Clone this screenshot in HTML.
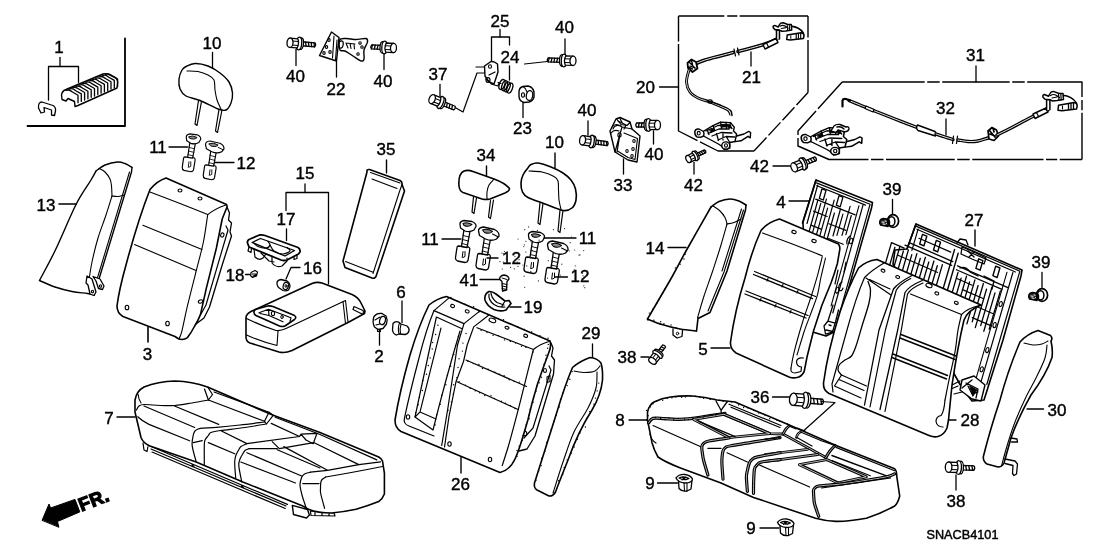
<!DOCTYPE html>
<html lang="en"><head><meta charset="utf-8"><title>Rear Seat - SNACB4101</title>
<style>
html,body{margin:0;padding:0;background:#fff;}
body{width:1108px;height:553px;overflow:hidden;}
svg{display:block;opacity:0.999;will-change:transform;font-family:"Liberation Sans",Arial,sans-serif;}
svg text{fill:#000;}
svg path, svg ellipse{stroke-linejoin:round;stroke-linecap:round;}
</style></head><body>
<svg width="1108" height="553" viewBox="0 0 1108 553">
<rect width="1108" height="553" fill="#fff"/>
<path d="M125 38.5L125 126L27.5 126" fill="none" stroke="#000" stroke-width="1.8"/>
<text x="59" y="52.8" font-size="17" text-anchor="middle" stroke="#000" stroke-width="0.4">1</text>
<path d="M60 57.5L60 66.5" fill="none" stroke="#000" stroke-width="1.3"/>
<path d="M48.5 100L48.5 66.5L78.5 66.5L78.5 82.5" fill="none" stroke="#000" stroke-width="1.3"/>
<path d="M41 113 L38.5 108 Q38 102 42 102 L53 105.5 Q56 107 55.5 111 L54.5 115.5 L51.5 115 L51.5 110 L44 107.5 L44.5 112 Z" fill="#fff" stroke="#000" stroke-width="1.3"/>
<path d="M61.5 95 Q62 91 66 89.5 L103 74 Q106 73 109 74.5 L116 78 Q118 80 117.5 84 L117 88 L78 105.5 L75 106.5 L74.5 101.5 L68 98.5 L66 101 L62 99.5 Z" fill="#fff" stroke="#000" stroke-width="1.4"/>
<path d="M66 90.5 q3 -1.5 6.5 1.5 l5.5 3.2 l0 7.5" fill="none" stroke="#000" stroke-width="1.3"/>
<path d="M69.3 89.2 q3 -1.5 6.5 1.5 l5.5 3.2 l0 7.5" fill="none" stroke="#000" stroke-width="1.3"/>
<path d="M72.6 87.8 q3 -1.5 6.5 1.5 l5.5 3.2 l0 7.5" fill="none" stroke="#000" stroke-width="1.3"/>
<path d="M75.9 86.5 q3 -1.5 6.5 1.5 l5.5 3.2 l0 7.5" fill="none" stroke="#000" stroke-width="1.3"/>
<path d="M79.2 85.1 q3 -1.5 6.5 1.5 l5.5 3.2 l0 7.5" fill="none" stroke="#000" stroke-width="1.3"/>
<path d="M82.5 83.8 q3 -1.5 6.5 1.5 l5.5 3.2 l0 7.5" fill="none" stroke="#000" stroke-width="1.3"/>
<path d="M85.8 82.4 q3 -1.5 6.5 1.5 l5.5 3.2 l0 7.5" fill="none" stroke="#000" stroke-width="1.3"/>
<path d="M89.1 81 q3 -1.5 6.5 1.5 l5.5 3.2 l0 7.5" fill="none" stroke="#000" stroke-width="1.3"/>
<path d="M92.4 79.7 q3 -1.5 6.5 1.5 l5.5 3.2 l0 7.5" fill="none" stroke="#000" stroke-width="1.3"/>
<path d="M95.7 78.3 q3 -1.5 6.5 1.5 l5.5 3.2 l0 7.5" fill="none" stroke="#000" stroke-width="1.3"/>
<path d="M99 77 q3 -1.5 6.5 1.5 l5.5 3.2 l0 7.5" fill="none" stroke="#000" stroke-width="1.3"/>
<path d="M102.3 75.7 q3 -1.5 6.5 1.5 l5.5 3.2 l0 7.5" fill="none" stroke="#000" stroke-width="1.3"/>
<path d="M105.6 74.3 q3 -1.5 6.5 1.5 l5.5 3.2 l0 7.5" fill="none" stroke="#000" stroke-width="1.3"/>
<text x="212" y="49.1" font-size="17" text-anchor="middle" stroke="#000" stroke-width="0.4">10</text>
<path d="M212.5 52.5L212.5 68" fill="none" stroke="#000" stroke-width="1.3"/>
<path d="M186 66.5C188.2 65.4 191.3 63.6 195 63.5C198.7 63.4 203.8 64.4 208 66C212.2 67.6 216.5 70.3 220 73C223.5 75.7 226.9 78.7 229 82C231.1 85.3 232.2 89.5 232.5 93C232.8 96.5 232.1 100.2 231 103C229.9 105.8 228.2 109 226 110C223.8 111 222.3 110.6 218 109C213.7 107.4 205.3 102.7 200 100.5C194.7 98.3 189.3 97.9 186 96C182.7 94.1 181.2 91.8 180 89C178.8 86.2 178.7 82.2 179 79C179.3 75.8 180.8 72.1 182 70C183.2 67.9 183.8 67.6 186 66.5Z" fill="none" stroke="#000" stroke-width="1.4"/>
<path d="M187 71C188.8 71.1 194.5 70.8 198 71.5C201.5 72.2 205.3 73.6 208 75C210.7 76.4 212.8 77.5 214 80C215.2 82.5 214.5 86.7 215 90C215.5 93.3 216 96.8 217 100C218 103.2 220.3 107.5 221 109" fill="none" stroke="#000" stroke-width="1.1"/>
<path d="M198.5 100.5L195 124L197 125.5L201.5 101.5" fill="none" stroke="#000" stroke-width="1.2"/>
<path d="M219 109.5L215.5 131L217.5 132.5L222 110" fill="none" stroke="#000" stroke-width="1.2"/>
<g transform="translate(299 43.5) rotate(5) scale(1 1)" fill="#fff" stroke="#000" stroke-width="1.3"><path d="M3 -2 L16 -2 Q17.5 0 16 2 L3 2Z"/><path d="M6.5 -2 l0.800 4"/><path d="M9.3 -2 l0.800 4"/><path d="M12.1 -2 l0.800 4"/><path d="M14.9 -2 l0.800 4"/><ellipse cx="2" cy="0" rx="2.500" ry="5.800"/><ellipse cx="0" cy="0" rx="2.700" ry="6.300"/><path d="M-9 -4.600 L-1.500 -4.600 Q0.500 0 -1.500 4.600 L-9 4.600Z"/><path d="M-7 -1.800 L-1 -1.800 M-7 2 L-1 2" stroke-width="1"/><ellipse cx="-9" cy="0" rx="3" ry="4.700"/></g>
<text x="295.5" y="82.3" font-size="17" text-anchor="middle" stroke="#000" stroke-width="0.4">40</text>
<path d="M296 49.5L296 65.5" fill="none" stroke="#000" stroke-width="1.3"/>
<path d="M331.5 32L339 37.5L336.5 61L319.5 55.5Z" fill="#fff" stroke="#000" stroke-width="1.4"/>
<path d="M339.5 40C340.5 38.1 343.2 38.6 346 38.5C348.8 38.4 352.7 39.5 356 39.5C359.3 39.5 364.1 38.1 366 38.5C367.9 38.9 367.8 40.1 367.5 42C367.2 43.9 364.6 47.2 364 50C363.4 52.8 364.5 57.2 364 59C363.5 60.8 362.8 61.5 361 61C359.2 60.5 355.7 57.7 353 56C350.3 54.3 347.2 52 345 51C342.8 50 340.9 51.8 340 50C339.1 48.2 338.5 41.9 339.5 40Z" fill="#fff" stroke="#000" stroke-width="1.4"/>
<path d="M334 36L332.5 58" fill="none" stroke="#000" stroke-width="1.1"/>
<path d="M337 40L335.5 60" fill="none" stroke="#000" stroke-width="1.1"/>
<ellipse cx="341" cy="44.5" rx="2.2" ry="3.6" fill="none" stroke="#000" stroke-width="1.2" transform="rotate(10 341 44.5)"/>
<ellipse cx="329" cy="40" rx="1.2" ry="1.4" fill="none" stroke="#000" stroke-width="1.1"/>
<ellipse cx="326.5" cy="47" rx="1.2" ry="1.4" fill="none" stroke="#000" stroke-width="1.1"/>
<ellipse cx="324" cy="53" rx="1.2" ry="1.4" fill="none" stroke="#000" stroke-width="1.1"/>
<ellipse cx="330" cy="52" rx="1.2" ry="1.4" fill="none" stroke="#000" stroke-width="1.1"/>
<ellipse cx="360" cy="43" rx="1.2" ry="1.3" fill="none" stroke="#000" stroke-width="1.1"/>
<ellipse cx="358" cy="54" rx="1.2" ry="1.3" fill="none" stroke="#000" stroke-width="1.1"/>
<ellipse cx="362" cy="47" rx="1.2" ry="1.3" fill="none" stroke="#000" stroke-width="1.1"/>
<path d="M346 43 l2 5 M350 43.5 l1 5 M354 44 l0.5 5 M346 43 l9 1" fill="none" stroke="#000" stroke-width="1.1"/>
<text x="336" y="94.8" font-size="17" text-anchor="middle" stroke="#000" stroke-width="0.4">22</text>
<path d="M336.5 61L336.5 77" fill="none" stroke="#000" stroke-width="1.3"/>
<g transform="translate(384.5 47.5) rotate(3) scale(-1 1)" fill="#fff" stroke="#000" stroke-width="1.3"><path d="M3 -2 L13 -2 Q14.5 0 13 2 L3 2Z"/><path d="M6.5 -2 l0.800 4"/><path d="M9.3 -2 l0.800 4"/><path d="M12.1 -2 l0.800 4"/><ellipse cx="2" cy="0" rx="2.500" ry="5.800"/><ellipse cx="0" cy="0" rx="2.700" ry="6.300"/><path d="M-9 -4.600 L-1.500 -4.600 Q0.500 0 -1.500 4.600 L-9 4.600Z"/><path d="M-7 -1.800 L-1 -1.800 M-7 2 L-1 2" stroke-width="1"/><ellipse cx="-9" cy="0" rx="3" ry="4.700"/></g>
<text x="383" y="87.3" font-size="17" text-anchor="middle" stroke="#000" stroke-width="0.4">40</text>
<path d="M384 54L384 69.5" fill="none" stroke="#000" stroke-width="1.3"/>
<text x="500" y="26.8" font-size="17" text-anchor="middle" stroke="#000" stroke-width="0.4">25</text>
<path d="M500 29.5L500 37" fill="none" stroke="#000" stroke-width="1.3"/>
<path d="M491.5 62.5L491.5 37L509.5 37L509.5 45" fill="none" stroke="#000" stroke-width="1.3"/>
<text x="510" y="62.8" font-size="17" text-anchor="middle" stroke="#000" stroke-width="0.4">24</text>
<path d="M509.5 66L509.5 80" fill="none" stroke="#000" stroke-width="1.3"/>
<text x="522.5" y="134.3" font-size="17" text-anchor="middle" stroke="#000" stroke-width="0.4">23</text>
<path d="M523 102.5L523 117.5" fill="none" stroke="#000" stroke-width="1.3"/>
<text x="438" y="79.8" font-size="17" text-anchor="middle" stroke="#000" stroke-width="0.4">37</text>
<path d="M440 84.5L440 96" fill="none" stroke="#000" stroke-width="1.3"/>
<g transform="translate(440.5 102.5) rotate(22) scale(1 1)" fill="#fff" stroke="#000" stroke-width="1.3"><path d="M3 -2 L15 -2 Q16.5 0 15 2 L3 2Z"/><path d="M6.5 -2 l0.800 4"/><path d="M9.3 -2 l0.800 4"/><path d="M12.1 -2 l0.800 4"/><ellipse cx="2" cy="0" rx="2.500" ry="5.800"/><ellipse cx="0" cy="0" rx="2.700" ry="6.300"/><path d="M-9 -4.600 L-1.500 -4.600 Q0.500 0 -1.500 4.600 L-9 4.600Z"/><path d="M-7 -1.800 L-1 -1.800 M-7 2 L-1 2" stroke-width="1"/><ellipse cx="-9" cy="0" rx="3" ry="4.700"/></g>
<path d="M456 108L463 112L477 73L484.5 73" fill="none" stroke="#000" stroke-width="1.2"/>
<path d="M476 67L484.5 67" fill="none" stroke="#000" stroke-width="1.2"/>
<path d="M524.5 64L552 61" fill="none" stroke="#000" stroke-width="1.2"/>
<path d="M484.5 66 L491 61.5 Q494 61 497.5 64 L498 72 L494 84 L489 82 L485 76 Z" fill="#fff" stroke="#000" stroke-width="1.4"/>
<ellipse cx="490" cy="66.5" rx="1.5" ry="1.8" fill="none" stroke="#000" stroke-width="1.1"/>
<path d="M489 75 l6 -3 M486 79 l5 4 M491 84 l7 2 l1 -3" fill="none" stroke="#000" stroke-width="1.2"/>
<ellipse cx="488" cy="80" rx="2" ry="2.4" fill="none" stroke="#000" stroke-width="1.2"/>
<ellipse cx="502" cy="84.5" rx="2.6" ry="5.2" fill="none" stroke="#000" stroke-width="1.3" transform="rotate(20 502 84.5)"/>
<ellipse cx="504.6" cy="85.7" rx="2.6" ry="5.2" fill="none" stroke="#000" stroke-width="1.3" transform="rotate(20 504.6 85.7)"/>
<ellipse cx="507.2" cy="86.9" rx="2.6" ry="5.2" fill="none" stroke="#000" stroke-width="1.3" transform="rotate(20 507.2 86.9)"/>
<ellipse cx="509.8" cy="88.1" rx="2.6" ry="5.2" fill="none" stroke="#000" stroke-width="1.3" transform="rotate(20 509.8 88.1)"/>
<path d="M498 82.5L501 83.5" fill="none" stroke="#000" stroke-width="1.2"/>
<path d="M519 92 Q519 87.5 523 86.5 L528 86 Q533 87 534 92 L534 97 Q533 101 529 102 L524 102.5 Q519 101 519 96Z" fill="#fff" stroke="#000" stroke-width="1.4"/>
<ellipse cx="529.5" cy="95.5" rx="3.2" ry="5" fill="none" stroke="#000" stroke-width="1.3" transform="rotate(10 529.5 95.5)"/>
<ellipse cx="523" cy="95" rx="1.5" ry="2.2" fill="none" stroke="#000" stroke-width="1.1"/>
<path d="M523 86.5 Q526 88 527 92" fill="none" stroke="#000" stroke-width="1.1"/>
<g transform="translate(564 60.5) rotate(2) scale(-1 1)" fill="#fff" stroke="#000" stroke-width="1.3"><path d="M3 -2 L16 -2 Q17.5 0 16 2 L3 2Z"/><path d="M6.5 -2 l0.800 4"/><path d="M9.3 -2 l0.800 4"/><path d="M12.1 -2 l0.800 4"/><path d="M14.9 -2 l0.800 4"/><ellipse cx="2" cy="0" rx="2.500" ry="5.800"/><ellipse cx="0" cy="0" rx="2.700" ry="6.300"/><path d="M-9 -4.600 L-1.500 -4.600 Q0.500 0 -1.500 4.600 L-9 4.600Z"/><path d="M-7 -1.800 L-1 -1.800 M-7 2 L-1 2" stroke-width="1"/><ellipse cx="-9" cy="0" rx="3" ry="4.700"/></g>
<text x="564.5" y="33.3" font-size="17" text-anchor="middle" stroke="#000" stroke-width="0.4">40</text>
<path d="M565 39L565 54" fill="none" stroke="#000" stroke-width="1.3"/>
<path d="M678.500 16 H724.300 M727.200 16 H737.400 M739.600 16 H808 M808 16 V37.500 M808 40 V92.500 M808 92.500 L796.500 105 M794.500 107.200 L782.500 120.200 M780.500 122.400 L768.500 135.400 M766.500 137.600 L754 151 M754 151 H718 L700 141.900 M697.500 140.600 L678.500 131 V44 M678.500 41.500 V16" fill="none" stroke="#000" stroke-width="1.4" style="stroke-linecap:butt"/>
<text x="645.5" y="93.3" font-size="17" text-anchor="middle" stroke="#000" stroke-width="0.4">20</text>
<path d="M659.5 87L678.5 87" fill="none" stroke="#000" stroke-width="1.3"/>
<text x="751.5" y="83.3" font-size="17" text-anchor="middle" stroke="#000" stroke-width="0.4">21</text>
<path d="M751 52L751 66" fill="none" stroke="#000" stroke-width="1.3"/>
<path d="M690 66C692.5 65 700 61.7 705 60C710 58.3 715.3 57.2 720 56C724.7 54.8 730.8 53.1 733 52.5" fill="none" stroke="#000" stroke-width="3.5"/>
<path d="M690 66C692.5 65 700 61.7 705 60C710 58.3 715.3 57.2 720 56C724.7 54.8 730.8 53.1 733 52.5" fill="none" stroke="#fff" stroke-width="0.9"/>
<path d="M738 51.5C740.8 50.8 750 48.4 755 47C760 45.6 764.3 44.3 768 43C771.7 41.7 775.5 39.7 777 39" fill="none" stroke="#000" stroke-width="3.5"/>
<path d="M738 51.5C740.8 50.8 750 48.4 755 47C760 45.6 764.3 44.3 768 43C771.7 41.7 775.5 39.7 777 39" fill="none" stroke="#fff" stroke-width="0.9"/>
<path d="M734 49 l1.5 7 M737.5 48 l1.5 7" fill="none" stroke="#000" stroke-width="1.2"/>
<path d="M763 44.500 L776 38.500 L778 42.500 L765 49 Z" fill="#fff" stroke="#000" stroke-width="1.4"/>
<path d="M766.500 43 l2 4" fill="none" stroke="#000" stroke-width="1.2"/>
<path d="M687.500 63 l4 -3.500 l4.500 2.500 l1.500 6.500 l-5 3.500 l-4.500 -4 Z" fill="#fff" stroke="#000" stroke-width="1.8"/>
<path d="M689 62 l6 6 M691.500 60.500 l1 4 M688.500 67 l4 2" fill="none" stroke="#000" stroke-width="1.4"/>
<path d="M690 66 l5 2" fill="none" stroke="#000" stroke-width="1.2"/>
<g transform="translate(776.5 39.8) scale(0.9) translate(-1046.600 -110.500)" fill="#fff" stroke="#000" stroke-width="1.7"><path d="M1046.600 110.500 L1046.600 99.500 L1049.900 99.500 L1049.900 109.500"/><path d="M1062.500 95.300 Q1072 96 1076.600 103.200" fill="none"/><path d="M1058.500 105.200 L1074 102.600 Q1077.200 103 1077.200 106 L1076.500 109 L1062 110.700 L1058 110.200 Z"/><path d="M1068.500 103.600 l0 6 M1071 103.200 l0 6 M1073.500 102.800 l0 6" stroke-width="1.300"/><path d="M1062.500 106 l0 3" stroke-width="1.100"/><path d="M1043 97.200 Q1042.300 95 1044.500 94.500 L1048.500 96.300 L1050 93.500 Q1051 91.500 1054 91.600 L1058.500 93.200 L1063 93.600 L1063.500 99.600 L1057 100.600 L1052.500 101 L1050 99.700 L1045 99.200 Z"/><path d="M1050.500 95.500 q3 -2 6 0 l3 2 M1052 98 l5 -1 M1058.500 93.500 l0.500 6.500 M1060.800 93.600 l0.400 6.300" stroke-width="1.200" fill="none"/></g>
<path d="M689 70C688.6 72 686.3 78.3 686.5 82C686.7 85.7 688.1 89.3 690 92C691.9 94.7 695.2 96.5 698 98C700.8 99.5 705.5 100.5 707 101" fill="none" stroke="#000" stroke-width="2.9"/>
<path d="M689 70C688.6 72 686.3 78.3 686.5 82C686.7 85.7 688.1 89.3 690 92C691.9 94.7 695.2 96.5 698 98C700.8 99.5 705.5 100.5 707 101" fill="none" stroke="#fff" stroke-width="0.8"/>
<path d="M707 101C707.8 101.2 709.8 101.3 712 102C714.2 102.7 717.5 104 720 105C722.5 106 725.2 107 727 108C728.8 109 730.2 109.8 731 111C731.8 112.2 731.8 114.8 732 115.5" fill="none" stroke="#000" stroke-width="1.4"/>
<path d="M709 102.5C710 102.9 712.8 104.1 715 105C717.2 105.9 719.8 107 722 108C724.2 109 726.7 109.8 728 111C729.3 112.2 729.7 114.3 730 115" fill="none" stroke="#000" stroke-width="1.2"/>
<ellipse cx="710" cy="101.5" rx="2.2" ry="1.6" fill="none" stroke="#000" stroke-width="1.2"/>
<g transform="translate(688 112)" fill="#fff" stroke="#000" stroke-width="1.4"><path d="M47 24.500 L56 22 L60.700 19.400 L62.600 20.500 L62.300 25.800 L60 24.300 L53 28.800 L47 29.600 Z"/><path d="M15 19.500 L25 13.700 L32.600 10.200 L42.500 10.600 L46.300 15.200 L45.500 19 L48.600 22 L47 29.500 L41.800 30.500 L41.800 36 L36.500 37.500 L33.400 34 L30.400 32 L15.500 24 Z"/><path d="M6.800 19.500 Q7.500 16.500 11 17 L15.500 19.500 Q16.500 22 15.500 24 L13 25.200 L9 25 Q6.500 23 6.800 19.500Z"/><ellipse cx="10.700" cy="21.200" rx="1.500" ry="1.800" stroke-width="1.100"/><ellipse cx="37.800" cy="33.600" rx="4" ry="3.700"/><ellipse cx="38" cy="33.500" rx="1.500" ry="1.700" stroke-width="1.100"/><path d="M18 19 L30 13.500 L40 13 L44 16.500 M20 21.500 L31 17 L41 17 M24 24 L33 20.500 L44 21 M30 28 L38 24.500 L46.500 25 M25 13.700 L26.500 18.500 M32.600 10.200 L33.500 16 M38 10.400 L38.500 16.500 M42.500 10.600 L41 17 M19 17.500 L21 22.500 M28.500 21.500 L30.500 28.500 M35 22 L35 28 M41.800 30.500 L38.500 25" stroke-width="1.300"/><path d="M33 12.500 l4.500 -0.200 l0.500 2.500 l-4.500 0.500Z M39.500 12.500 l3 0.500 l1 3 l-3.500 -0.500Z M22 18 l4 -2 l1 2.500 l-4 2Z" fill="#000" stroke-width="0.800"/></g>
<text x="975.5" y="61.3" font-size="17" text-anchor="middle" stroke="#000" stroke-width="0.4">31</text>
<path d="M976 66L976 82" fill="none" stroke="#000" stroke-width="1.3"/>
<path d="M842.200 82 H924.700 M927.200 82 H939.700 M942.200 82 H1009.700 M1012.200 82 H1024.700 M1027.200 82 H1082 V97 M1082 100 V110.300 M1082 112.800 V159.500 M1082 159.500 H1059.700 M1057.200 159.500 H1046 M1043.500 159.500 H972.200 M969.700 159.500 H957.200 M954.700 159.500 H886 M883.500 159.500 H871 M868.500 159.500 H829 L798 146 V138 M798 135 V131 L816 111 M818 108.800 L842.200 82" fill="none" stroke="#000" stroke-width="1.4" style="stroke-linecap:butt"/>
<text x="945.5" y="114.3" font-size="17" text-anchor="middle" stroke="#000" stroke-width="0.4">32</text>
<path d="M946 119L946 135" fill="none" stroke="#000" stroke-width="1.3"/>
<g transform="translate(793.800 117.500) scale(1.09 1)">
<g transform="translate(0 0)" fill="#fff" stroke="#000" stroke-width="1.4"><path d="M47 24.500 L56 22 L60.700 19.400 L62.600 20.500 L62.300 25.800 L60 24.300 L53 28.800 L47 29.600 Z"/><path d="M15 19.500 L25 13.700 L32.600 10.200 L42.500 10.600 L46.300 15.200 L45.500 19 L48.600 22 L47 29.500 L41.800 30.500 L41.800 36 L36.500 37.500 L33.400 34 L30.400 32 L15.500 24 Z"/><path d="M6.800 19.500 Q7.500 16.500 11 17 L15.500 19.500 Q16.500 22 15.500 24 L13 25.200 L9 25 Q6.500 23 6.800 19.500Z"/><ellipse cx="10.700" cy="21.200" rx="1.500" ry="1.800" stroke-width="1.100"/><ellipse cx="37.800" cy="33.600" rx="4" ry="3.700"/><ellipse cx="38" cy="33.500" rx="1.500" ry="1.700" stroke-width="1.100"/><path d="M18 19 L30 13.500 L40 13 L44 16.500 M20 21.500 L31 17 L41 17 M24 24 L33 20.500 L44 21 M30 28 L38 24.500 L46.500 25 M25 13.700 L26.500 18.500 M32.600 10.200 L33.500 16 M38 10.400 L38.500 16.500 M42.500 10.600 L41 17 M19 17.500 L21 22.500 M28.500 21.500 L30.500 28.500 M35 22 L35 28 M41.800 30.500 L38.500 25" stroke-width="1.300"/><path d="M33 12.500 l4.500 -0.200 l0.500 2.500 l-4.500 0.500Z M39.500 12.500 l3 0.500 l1 3 l-3.500 -0.500Z M22 18 l4 -2 l1 2.500 l-4 2Z" fill="#000" stroke-width="0.800"/></g>
</g>
<path d="M831 131 L834 126 Q836 124 840 124.500 L846 127 Q849 126 849 129 Q848 132 844 131.700 L838 130 L836 132.500 Z M837 127 q4 -1 7 2" fill="#fff" stroke="#000" stroke-width="1.4"/>
<path d="M849 100.5C850.8 101.2 856.3 103.5 860 105C863.7 106.5 865.2 107.2 871 109.5C876.8 111.8 887.3 116 895 119C902.7 122 913.3 126.1 917 127.5" fill="none" stroke="#000" stroke-width="3.4"/>
<path d="M849 100.5C850.8 101.2 856.3 103.5 860 105C863.7 106.5 865.2 107.2 871 109.5C876.8 111.8 887.3 116 895 119C902.7 122 913.3 126.1 917 127.5" fill="none" stroke="#fff" stroke-width="0.9"/>
<path d="M842.500 106.500 L842.500 100.500 Q843 98.500 846 99 L850 100.500" fill="none" stroke="#000" stroke-width="2.2"/>
<path d="M866 106 l8 3.500 l-1 2.500 l-8 -3.500 Z" fill="#fff" stroke="#000" stroke-width="1.2"/>
<path d="M917.500 125 L935 131.500 Q937 133.500 935.500 136 L918 130.500 Q915.500 128 917.500 125Z" fill="#fff" stroke="#000" stroke-width="1.4"/>
<path d="M936 134C937.5 134.5 942.2 136.1 945 137C947.8 137.9 951.7 139.1 953 139.5" fill="none" stroke="#000" stroke-width="3.4"/>
<path d="M936 134C937.5 134.5 942.2 136.1 945 137C947.8 137.9 951.7 139.1 953 139.5" fill="none" stroke="#fff" stroke-width="0.9"/>
<path d="M953.500 136 l-1 7.500 M957.500 136 l-1 7.500" fill="none" stroke="#000" stroke-width="1.2"/>
<path d="M958 140C959.7 140.2 964.7 141.3 968 141.5C971.3 141.7 974.7 141.6 978 141C981.3 140.4 986.3 138.5 988 138" fill="none" stroke="#000" stroke-width="3.4"/>
<path d="M958 140C959.7 140.2 964.7 141.3 968 141.5C971.3 141.7 974.7 141.6 978 141C981.3 140.4 986.3 138.5 988 138" fill="none" stroke="#fff" stroke-width="0.9"/>
<path d="M988 131 l4 -3.500 l4.500 2.500 l2 6 l-4.500 4.500 l-5 -1.500 Z M990 134 l5 2 M993 128 l1 4 M989 130 l6 7" fill="#fff" stroke="#000" stroke-width="1.7"/>
<path d="M997 135C999.2 133.9 1005.5 130.8 1010 128.5C1014.5 126.2 1019.7 123.2 1024 121C1028.3 118.8 1032 116.8 1036 115C1040 113.2 1046 110.8 1048 110" fill="none" stroke="#000" stroke-width="3.4"/>
<path d="M997 135C999.2 133.9 1005.5 130.8 1010 128.5C1014.5 126.2 1019.7 123.2 1024 121C1028.3 118.8 1032 116.8 1036 115C1040 113.2 1046 110.8 1048 110" fill="none" stroke="#fff" stroke-width="0.9"/>
<path d="M1033 114 L1046 108 L1048 112 L1035 118.500 Z" fill="#fff" stroke="#000" stroke-width="1.4"/>
<path d="M1036.500 112.500 l2 4" fill="none" stroke="#000" stroke-width="1.2"/>
<g transform="translate(1046.6 110.5) scale(1) translate(-1046.600 -110.500)" fill="#fff" stroke="#000" stroke-width="1.5"><path d="M1046.600 110.500 L1046.600 99.500 L1049.900 99.500 L1049.900 109.500"/><path d="M1062.500 95.300 Q1072 96 1076.600 103.200" fill="none"/><path d="M1058.500 105.200 L1074 102.600 Q1077.200 103 1077.200 106 L1076.500 109 L1062 110.700 L1058 110.200 Z"/><path d="M1068.500 103.600 l0 6 M1071 103.200 l0 6 M1073.500 102.800 l0 6" stroke-width="1.300"/><path d="M1062.500 106 l0 3" stroke-width="1.100"/><path d="M1043 97.200 Q1042.300 95 1044.500 94.500 L1048.500 96.300 L1050 93.500 Q1051 91.500 1054 91.600 L1058.500 93.200 L1063 93.600 L1063.500 99.600 L1057 100.600 L1052.500 101 L1050 99.700 L1045 99.200 Z"/><path d="M1050.500 95.500 q3 -2 6 0 l3 2 M1052 98 l5 -1 M1058.500 93.500 l0.500 6.500 M1060.800 93.600 l0.400 6.300" stroke-width="1.200" fill="none"/></g>
<text x="587" y="115.8" font-size="17" text-anchor="middle" stroke="#000" stroke-width="0.4">40</text>
<path d="M588 121L588 135" fill="none" stroke="#000" stroke-width="1.3"/>
<g transform="translate(591.5 141.5) rotate(8) scale(1 1)" fill="#fff" stroke="#000" stroke-width="1.3"><path d="M3 -2 L16 -2 Q17.5 0 16 2 L3 2Z"/><path d="M6.5 -2 l0.800 4"/><path d="M9.3 -2 l0.800 4"/><path d="M12.1 -2 l0.800 4"/><path d="M14.9 -2 l0.800 4"/><ellipse cx="2" cy="0" rx="2.500" ry="5.800"/><ellipse cx="0" cy="0" rx="2.700" ry="6.300"/><path d="M-9 -4.600 L-1.500 -4.600 Q0.500 0 -1.500 4.600 L-9 4.600Z"/><path d="M-7 -1.800 L-1 -1.800 M-7 2 L-1 2" stroke-width="1"/><ellipse cx="-9" cy="0" rx="3" ry="4.700"/></g>
<text x="654" y="160.3" font-size="17" text-anchor="middle" stroke="#000" stroke-width="0.4">40</text>
<path d="M653.5 131L653.5 144" fill="none" stroke="#000" stroke-width="1.3"/>
<g transform="translate(648.5 125) rotate(0) scale(-1 1)" fill="#fff" stroke="#000" stroke-width="1.3"><path d="M3 -2 L12 -2 Q13.5 0 12 2 L3 2Z"/><path d="M6.5 -2 l0.800 4"/><path d="M9.3 -2 l0.800 4"/><ellipse cx="2" cy="0" rx="2.500" ry="5.800"/><ellipse cx="0" cy="0" rx="2.700" ry="6.300"/><path d="M-9 -4.600 L-1.500 -4.600 Q0.500 0 -1.500 4.600 L-9 4.600Z"/><path d="M-7 -1.800 L-1 -1.800 M-7 2 L-1 2" stroke-width="1"/><ellipse cx="-9" cy="0" rx="3" ry="4.700"/></g>
<text x="623" y="190.8" font-size="17" text-anchor="middle" stroke="#000" stroke-width="0.4">33</text>
<path d="M623.5 159L623.5 174" fill="none" stroke="#000" stroke-width="1.3"/>
<path d="M616 119 L620 117.500 L630 122 L632 129 L640 136 L637 162 L628 160 L615 152 L610 131 Z" fill="#fff" stroke="#000" stroke-width="1.4"/>
<path d="M612 127 Q616 122 622 127 L620 134 L617 152 M622 127 L632 129 M618 121 l8 4 l-2 4 M620 134 l-5 18" fill="none" stroke="#000" stroke-width="1.2"/>
<path d="M624 133 L637.500 138.500 L635 159.500 L628 157.500 L617.500 151" fill="none" stroke="#000" stroke-width="1.1"/>
<path d="M617 119.500 l4 5 l6 1 l3 -3 M620 118.500 l2 4 M613 129 q2 -5 8 -3 M611 133 q3 -4 8 -2" fill="none" stroke="#000" stroke-width="1.2"/>
<ellipse cx="619.5" cy="135" rx="1.6" ry="2.2" fill="none" stroke="#000" stroke-width="1.1"/>
<ellipse cx="634" cy="141" rx="1.2" ry="1.5" fill="none" stroke="#000" stroke-width="1.1"/>
<ellipse cx="633" cy="149" rx="1.2" ry="1.5" fill="none" stroke="#000" stroke-width="1.1"/>
<ellipse cx="627" cy="151" rx="1.2" ry="1.5" fill="none" stroke="#000" stroke-width="1.1"/>
<ellipse cx="632" cy="156" rx="1.2" ry="1.5" fill="none" stroke="#000" stroke-width="1.1"/>
<text x="693.5" y="190.8" font-size="17" text-anchor="middle" stroke="#000" stroke-width="0.4">42</text>
<path d="M694 162.5L694 174" fill="none" stroke="#000" stroke-width="1.3"/>
<g transform="translate(695 156) rotate(-25) scale(0.8 0.8)" fill="#fff" stroke="#000" stroke-width="1.6"><path d="M3 -2 L14 -2 Q15.5 0 14 2 L3 2Z"/><path d="M6.5 -2 l0.800 4"/><path d="M9.3 -2 l0.800 4"/><path d="M12.1 -2 l0.800 4"/><ellipse cx="2" cy="0" rx="2.500" ry="5.800"/><ellipse cx="0" cy="0" rx="2.700" ry="6.300"/><path d="M-9 -4.600 L-1.500 -4.600 Q0.500 0 -1.500 4.600 L-9 4.600Z"/><path d="M-7 -1.800 L-1 -1.800 M-7 2 L-1 2" stroke-width="1.2"/><ellipse cx="-9" cy="0" rx="3" ry="4.700"/></g>
<text x="759.5" y="172.3" font-size="17" text-anchor="middle" stroke="#000" stroke-width="0.4">42</text>
<path d="M773 166L791.5 166" fill="none" stroke="#000" stroke-width="1.3"/>
<g transform="translate(802.5 164) rotate(-22) scale(1 1)" fill="#fff" stroke="#000" stroke-width="1.3"><path d="M3 -2 L14 -2 Q15.5 0 14 2 L3 2Z"/><path d="M6.5 -2 l0.800 4"/><path d="M9.3 -2 l0.800 4"/><path d="M12.1 -2 l0.800 4"/><ellipse cx="2" cy="0" rx="2.500" ry="5.800"/><ellipse cx="0" cy="0" rx="2.700" ry="6.300"/><path d="M-9 -4.600 L-1.500 -4.600 Q0.500 0 -1.500 4.600 L-9 4.600Z"/><path d="M-7 -1.800 L-1 -1.800 M-7 2 L-1 2" stroke-width="1"/><ellipse cx="-9" cy="0" rx="3" ry="4.700"/></g>
<g transform="translate(193.5 137.5) scale(0.9)" fill="#fff" stroke="#000" stroke-width="1.3"><path d="M-9.500 21.500 L0.500 22.500 Q2 23 1.800 25 L0 36 Q-0.500 38 -3 38 L-10.500 36.500 Q-12.800 35.500 -12.500 33 L-11 23 Q-10.800 21.500 -9.500 21.500Z"/><path d="M-5 27 l-0.800 6 M-3 27 l0 5 l-2 1" stroke-width="1"/><path d="M-4 5 L-6.500 22 L-1 23 L2 7 Z"/><path d="M-5 11 l6 1.500 M-5.600 15 l6 1.500 M-6.200 19 l6 1.500" stroke-width="0.9"/><path d="M-8 0 Q-8.500 -3 -4 -4 L4 -3 Q8.500 -1 8 2 L6 5.500 Q2 8 -3 6.500 L-7.500 3.500 Z"/><path d="M-5 -1 q4 -2 9 1 q-3 3 -8 1 Z" stroke-width="1.05" fill="#8a8a8a"/></g>
<g transform="translate(214.5 145.5) scale(0.9)" fill="#fff" stroke="#000" stroke-width="1.3"><path d="M-9.500 21.500 L0.500 22.500 Q2 23 1.800 25 L0 36 Q-0.500 38 -3 38 L-10.500 36.500 Q-12.800 35.500 -12.500 33 L-11 23 Q-10.800 21.500 -9.500 21.500Z"/><path d="M-5 27 l-0.800 6 M-3 27 l0 5 l-2 1" stroke-width="1"/><path d="M-4 5 L-6.500 22 L-1 23 L2 7 Z"/><path d="M-5 11 l6 1.500 M-5.600 15 l6 1.500 M-6.200 19 l6 1.500" stroke-width="0.9"/><path d="M-10 -1 Q-10 -4.500 -5 -5 L6 -2.500 Q11 0 10.500 4 L8 7 Q3 9.500 -3 7 L-9 3.500 Z"/><path d="M-6 -2 q5 -2 10 1.500 q-3 3 -8 1 Z M4 2 l5 2.500" stroke-width="1.05" fill="#8a8a8a"/></g>
<text x="158" y="152.8" font-size="17" text-anchor="middle" stroke="#000" stroke-width="0.4">11</text>
<path d="M169 147L187.5 147" fill="none" stroke="#000" stroke-width="1.3"/>
<text x="246" y="168.8" font-size="17" text-anchor="middle" stroke="#000" stroke-width="0.4">12</text>
<path d="M215 162.5L234 162.5" fill="none" stroke="#000" stroke-width="1.3"/>
<text x="46" y="210.8" font-size="17" text-anchor="middle" stroke="#000" stroke-width="0.4">13</text>
<path d="M59 204L76 204" fill="none" stroke="#000" stroke-width="1.6"/>
<path d="M39.5 280.5C42.1 275.4 49.3 262.7 55.4 250C61.5 237.3 70.1 216.2 76 204.5C81.9 192.8 87.7 185.6 91 180C94.3 174.4 95.2 172.5 96 171" fill="none" stroke="#000" stroke-width="1.4"/>
<path d="M96 171C97.5 170 101.4 166.5 105 165C108.6 163.5 114.2 162.2 117.5 162C120.8 161.8 122.6 162.6 125 163.5C127.4 164.4 130.8 166.8 132 167.5" fill="none" stroke="#000" stroke-width="1.4"/>
<path d="M132 167.500 L131.500 172 L99 279" fill="none" stroke="#000" stroke-width="1.4"/>
<path d="M129.500 172 L96.500 281" fill="none" stroke="#000" stroke-width="1.1"/>
<path d="M99 168.5C100 169.1 103.2 170.2 105 172C106.8 173.8 108.9 176.7 110 179C111.1 181.3 111.2 183.2 111.5 186C111.8 188.8 111.9 194.3 112 196" fill="none" stroke="#000" stroke-width="1.1"/>
<path d="M112 196C111 199.2 108.3 208 106 215C103.7 222 100.3 230.2 98 238C95.7 245.8 93.6 254.5 92 262C90.4 269.5 89.1 279.5 88.5 283" fill="none" stroke="#000" stroke-width="1.1"/>
<path d="M112 196C113 196.1 116 196.7 118 196.5C120 196.3 123 195.2 124 195" fill="none" stroke="#000" stroke-width="1.1"/>
<path d="M39.5 280.5C42.1 281.6 49.6 285.2 55 287C60.4 288.8 66.6 290.4 72 291.5C77.4 292.6 83.8 292.9 87.5 293.5C91.2 294.1 93.3 294.8 94.5 295" fill="none" stroke="#000" stroke-width="1.4"/>
<path d="M87 276 L92 279 L96 292 L94 295.500 L90 294 L88 285 L86 283 Z" fill="#fff" stroke="#000" stroke-width="1.3"/>
<path d="M93 276.500 L100 279 L104 286 L102.500 289.500 L98.500 288.500 L96 281 Z" fill="#fff" stroke="#000" stroke-width="1.3"/>
<ellipse cx="92.5" cy="291.5" rx="1.1" ry="1.3" fill="none" stroke="#000" stroke-width="1.1"/>
<ellipse cx="100.5" cy="286" rx="1.1" ry="1.3" fill="none" stroke="#000" stroke-width="1.1"/>
<text x="147.5" y="359.8" font-size="17" text-anchor="middle" stroke="#000" stroke-width="0.4">3</text>
<path d="M148 327L148 342" fill="none" stroke="#000" stroke-width="1.6"/>
<path d="M227 207 L229.500 213 L228.500 220 L231.500 223 L230 232 L231.500 236 L222.500 264 L209.500 307 L204 318 L196 324" fill="none" stroke="#000" stroke-width="1.3"/>
<path d="M226 226 L228 230 L206 305 L201 314" fill="none" stroke="#000" stroke-width="1.2"/>
<path d="M150 189.500 Q157 181 166 178 L226.500 204.500 Q227.500 205.500 226.600 208 L222.200 219 L216.400 248 L206.300 288.400 L200.500 314.400 Q198 321 194.700 326 Q191 333 187.500 337.600 Q183 341 178 338.500 L175 336.500 L123 316.500 Q117 313 117 306 Q119 290 126 265 Q138 220 150 189.500 Z" fill="#fff" stroke="#000" stroke-width="1.6"/>
<path d="M150 192C155 193.9 170.4 199.7 180 203.5C189.6 207.3 203.1 212.8 207.7 214.6" fill="none" stroke="#000" stroke-width="1.1"/>
<path d="M207.700 214.600 Q216 208 226 205" fill="none" stroke="#000" stroke-width="1.1"/>
<path d="M207.7 214.6C207 219.2 205.3 232.6 203.4 242C201.5 251.4 198.8 260.4 196.2 271C193.5 281.6 189.9 295.6 187.5 305.7C185.1 315.8 183.1 326.2 181.7 331.8C180.2 337.4 179.3 337.8 178.8 339" fill="none" stroke="#000" stroke-width="1.1"/>
<path d="M142.9 225.2L202 249.5" fill="none" stroke="#000" stroke-width="1.1"/>
<path d="M134.5 244.5L196 270.5" fill="none" stroke="#000" stroke-width="1.1"/>
<ellipse cx="180" cy="190.5" rx="2" ry="1.5" fill="none" stroke="#000" stroke-width="1.1"/>
<ellipse cx="200" cy="198.5" rx="2" ry="1.5" fill="none" stroke="#000" stroke-width="1.1"/>
<ellipse cx="222.3" cy="235" rx="1.6" ry="2.2" fill="#fff" stroke="#000" stroke-width="1.1" transform="rotate(20 222.3 235)"/>
<ellipse cx="200.5" cy="301.5" rx="2.2" ry="1.6" fill="#fff" stroke="#000" stroke-width="1.1" transform="rotate(-20 200.5 301.5)"/>
<ellipse cx="127" cy="307.5" rx="1.8" ry="2.3" fill="none" stroke="#000" stroke-width="1.1"/>
<ellipse cx="167.5" cy="323.5" rx="1.8" ry="2.3" fill="none" stroke="#000" stroke-width="1.1"/>
<text x="305" y="178.8" font-size="17" text-anchor="middle" stroke="#000" stroke-width="0.4">15</text>
<path d="M305 184L305 192.5" fill="none" stroke="#000" stroke-width="1.3"/>
<path d="M286 210.5L286 192.5L328.5 192.5L328.5 284" fill="none" stroke="#000" stroke-width="1.3"/>
<text x="286" y="225.3" font-size="17" text-anchor="middle" stroke="#000" stroke-width="0.4">17</text>
<path d="M286.5 229L286.5 240.5" fill="none" stroke="#000" stroke-width="1.3"/>
<text x="235" y="281.3" font-size="17" text-anchor="middle" stroke="#000" stroke-width="0.4">18</text>
<path d="M245.5 274.5L249.5 274.5" fill="none" stroke="#000" stroke-width="1.3"/>
<text x="312.5" y="274.3" font-size="17" text-anchor="middle" stroke="#000" stroke-width="0.4">16</text>
<path d="M300 267.5L291 267.5L286 279" fill="none" stroke="#000" stroke-width="1.3"/>
<path d="M247.500 243 Q247 240 250 239 L259.500 235 Q262 234.500 265 235.500 L298 247.500 Q300.500 249 300 252 L298.500 254 L287 260 Q284 261 281 260 L249 247 Z" fill="#fff" stroke="#000" stroke-width="1.8"/>
<path d="M252 242.500 L260.500 238.500 L294.500 250.500 L285 256 Z" fill="none" stroke="#000" stroke-width="1.3"/>
<path d="M254 243C254.7 243.6 256 245.7 258 246.5C260 247.3 264 248.2 266 248C268 247.8 269.7 246.1 270 245C270.3 243.9 268.3 242.1 268 241.5" fill="none" stroke="#000" stroke-width="1.2"/>
<path d="M270 245C270.7 246 271.8 249.5 274 251C276.2 252.5 280.3 254 283 254C285.7 254 289.3 252.1 290 251C290.7 249.9 287.5 248.1 287 247.5" fill="none" stroke="#000" stroke-width="1.2"/>
<path d="M249 247 l-1 4 l3 1.500 l0.500 -4 M254 249 l1 8 q4 4 8 1 l3 -4 M272 256 l0 7 q4 5 10 3 l5 -5 l0 -3 M261 253 l8 8 l5 1" fill="none" stroke="#000" stroke-width="1.2"/>
<path d="M297 254.500 l0 4 l-3 1 l0 -3" fill="none" stroke="#000" stroke-width="1.2"/>
<path d="M251 272.500 l4 -2 l2.500 1.500 l-1 4 l-4 1.500 l-2 -2 Z M252 274 l4 0 M253 276 l3 -1" fill="none" stroke="#000" stroke-width="1.1"/>
<path d="M277 282.500 Q277.500 280 281 279.500 L287 281 Q290 283 290 286.500 L288.500 290 Q286 291.500 283 290.500 L278.500 287.500 Q276.500 285 277 282.500Z" fill="#fff" stroke="#000" stroke-width="1.3"/>
<ellipse cx="285.8" cy="286" rx="2.6" ry="3.6" fill="none" stroke="#000" stroke-width="1.2" transform="rotate(15 285.8 286)"/>
<ellipse cx="286" cy="286" rx="1" ry="1.4" fill="none" stroke="#000" stroke-width="1"/>
<path d="M246 318 Q246 314 251 311.500 L312 283.500 Q317 281.500 322 283 L352 294.500 Q358 297 361 303 L365 311 L364.500 313.500 L348 322.500 L292 350.500 Q285 353.500 279 352 L250 343 Q246 341.500 246 337 Z" fill="#fff" stroke="#000" stroke-width="1.6"/>
<path d="M246.500 318.500 Q262 326 276 330.500 Q281 331 286 328.500 L345.500 300.500" fill="none" stroke="#000" stroke-width="1.2"/>
<path d="M246.500 335 Q262 342 277 345.500 L278 331" fill="none" stroke="#000" stroke-width="1.1"/>
<path d="M345.500 300.500 L348 322" fill="none" stroke="#000" stroke-width="1.1"/>
<path d="M343 301.500 L345.500 323.500" fill="none" stroke="#000" stroke-width="1.1"/>
<path d="M354 306.500 l9 4 l1 2.500 l-3 0.500 l-8 -4 Z" fill="#fff" stroke="#000" stroke-width="1.2"/>
<path d="M254 312.500 Q253.500 310.500 256 309.300 L267.500 306 Q270 305.500 273 306.500 L294.500 315.500 Q297 317.500 294.500 319.500 L285 326 Q282.500 327 279.500 326 L256 315.500 Q254 314.500 254 312.500Z" fill="none" stroke="#000" stroke-width="1.6"/>
<path d="M259 312.800 L268.500 309.300 L291 317.800 L290 321.300 M268.500 309.300 L269 315.500 L283 321.800 M269 315.500 l-9 -2" fill="none" stroke="#000" stroke-width="1.2"/>
<ellipse cx="273" cy="313.5" rx="1.6" ry="2.2" fill="none" stroke="#000" stroke-width="1.1"/>
<ellipse cx="282" cy="317" rx="1.2" ry="1.6" fill="none" stroke="#000" stroke-width="1"/>
<text x="386" y="155.3" font-size="17" text-anchor="middle" stroke="#000" stroke-width="0.4">35</text>
<path d="M386.5 160L386.5 173" fill="none" stroke="#000" stroke-width="1.4"/>
<path d="M367 172 Q366.500 169 369.500 169.500 L400 180.500 Q402.500 181.500 402 184.500 L404.500 191 L376.500 275 Q375.500 279 372 278 L345 267.500 L343 261 Z" fill="#fff" stroke="#000" stroke-width="1.6"/>
<path d="M370.500 172.500 L400 183 M372 179 L397 188.500 M399.500 191.500 L373 273.500 M345.500 261.500 L372.500 272 M402 184.500 L399.500 191.500" fill="none" stroke="#000" stroke-width="1.1"/>
<text x="401" y="297.8" font-size="17" text-anchor="middle" stroke="#000" stroke-width="0.4">6</text>
<path d="M402 301L402 322.5" fill="none" stroke="#000" stroke-width="1.3"/>
<path d="M393 323.500 Q395 321 398.500 322 L401 324 L407 326 Q409.500 328 409 331 Q408 334 405 334.500 L399 334 L396.500 335 Q393 334 392.500 330 Z" fill="#fff" stroke="#000" stroke-width="1.3"/>
<path d="M399.500 323 Q397.500 328 399 334 M401 324.500 Q399.500 329 400.500 333.500" fill="none" stroke="#000" stroke-width="1.1"/>
<text x="379" y="362.3" font-size="17" text-anchor="middle" stroke="#000" stroke-width="0.4">2</text>
<path d="M379.5 330L379.5 345" fill="none" stroke="#000" stroke-width="1.3"/>
<path d="M374 316.500 Q377 312.500 382 313.500 L386 316 Q388 320 386.500 324 L383 328.500 L378 329.500 L374.500 327 Q372 322 374 316.500Z" fill="#fff" stroke="#000" stroke-width="1.3"/>
<ellipse cx="382.5" cy="320.5" rx="2.8" ry="4.2" fill="none" stroke="#000" stroke-width="1.2" transform="rotate(15 382.5 320.5)"/>
<path d="M375 320 l5 -3 M376 325 l4 -1 M377.500 329 l0 2.500 l3 0 l0 -2" fill="none" stroke="#000" stroke-width="1.1"/>
<text x="486" y="161.3" font-size="17" text-anchor="middle" stroke="#000" stroke-width="0.4">34</text>
<path d="M486.5 166L486.5 177" fill="none" stroke="#000" stroke-width="1.4"/>
<path d="M459 186 Q458 174 464 171 Q468 169.500 473 171.500 L494 179 Q505 183 509.500 188.500 Q509.500 191 505 193 L490 199 Q486 200 482 199 L463 192.500 Q459.500 191 459 186Z" fill="#fff" stroke="#000" stroke-width="1.6"/>
<path d="M494 179C493.2 180 490.2 182.8 489 185C487.8 187.2 487.3 189.6 487 192C486.7 194.4 487 198.2 487 199.5" fill="none" stroke="#000" stroke-width="1.1"/>
<path d="M473.5 197L472 212L474 213.5L476.5 198" fill="none" stroke="#000" stroke-width="1.2"/>
<path d="M490.5 200.5L488.5 217L490.5 218.5L493.5 200" fill="none" stroke="#000" stroke-width="1.2"/>
<text x="554.5" y="147.8" font-size="17" text-anchor="middle" stroke="#000" stroke-width="0.4">10</text>
<path d="M555 153L555 168" fill="none" stroke="#000" stroke-width="1.4"/>
<path d="M527.5 168.5C528.8 166.8 529.2 165.4 531 164.5C532.8 163.6 534.7 162.6 538 163C541.3 163.4 546.8 165.3 551 167C555.2 168.7 559.7 170.8 563 173C566.3 175.2 568.9 177.3 571 180C573.1 182.7 574.7 185.7 575.5 189C576.3 192.3 576.6 196.8 576 200C575.4 203.2 574.2 206.2 572 208C569.8 209.8 567.5 211.2 563 210.5C558.5 209.8 550.8 206.2 545 204C539.2 201.8 531.8 199.5 528 197.5C524.2 195.5 523.7 194.4 522.5 192C521.3 189.6 520.9 185.8 521 183C521.1 180.2 521.9 177.4 523 175C524.1 172.6 526.2 170.2 527.5 168.5Z" fill="none" stroke="#000" stroke-width="1.6"/>
<path d="M529 171C531.2 171.2 537.8 171.1 542 172C546.2 172.9 551.3 175 554 176.5C556.7 178 557.2 178.8 558 181C558.8 183.2 558.3 186.8 558.5 190C558.7 193.2 558.6 196.8 559 200C559.4 203.2 560.7 207.9 561 209.5" fill="none" stroke="#000" stroke-width="1.1"/>
<path d="M540 202.5L538 223L540 224.5L543 203.5" fill="none" stroke="#000" stroke-width="1.2"/>
<path d="M560 210L558 231L560 232.5L563 210.5" fill="none" stroke="#000" stroke-width="1.2"/>
<g transform="translate(468 224.5) scale(1)" fill="#fff" stroke="#000" stroke-width="1.3"><path d="M-9.500 21.500 L0.500 22.500 Q2 23 1.800 25 L0 36 Q-0.500 38 -3 38 L-10.500 36.500 Q-12.800 35.500 -12.500 33 L-11 23 Q-10.800 21.500 -9.500 21.500Z"/><path d="M-5 27 l-0.800 6 M-3 27 l0 5 l-2 1" stroke-width="1"/><path d="M-4 5 L-6.500 22 L-1 23 L2 7 Z"/><path d="M-5 11 l6 1.500 M-5.600 15 l6 1.500 M-6.200 19 l6 1.500" stroke-width="0.9"/><path d="M-8 0 Q-8.500 -3 -4 -4 L4 -3 Q8.500 -1 8 2 L6 5.500 Q2 8 -3 6.500 L-7.500 3.500 Z"/><path d="M-5 -1 q4 -2 9 1 q-3 3 -8 1 Z" stroke-width="1.05" fill="#8a8a8a"/></g>
<g transform="translate(488.5 232) scale(1)" fill="#fff" stroke="#000" stroke-width="1.3"><path d="M-9.500 21.500 L0.500 22.500 Q2 23 1.800 25 L0 36 Q-0.500 38 -3 38 L-10.500 36.500 Q-12.800 35.500 -12.500 33 L-11 23 Q-10.800 21.500 -9.500 21.500Z"/><path d="M-5 27 l-0.800 6 M-3 27 l0 5 l-2 1" stroke-width="1"/><path d="M-4 5 L-6.500 22 L-1 23 L2 7 Z"/><path d="M-5 11 l6 1.500 M-5.600 15 l6 1.500 M-6.200 19 l6 1.500" stroke-width="0.9"/><path d="M-10 -1 Q-10 -4.500 -5 -5 L6 -2.500 Q11 0 10.500 4 L8 7 Q3 9.500 -3 7 L-9 3.500 Z"/><path d="M-6 -2 q5 -2 10 1.500 q-3 3 -8 1 Z M4 2 l5 2.500" stroke-width="1.05" fill="#8a8a8a"/></g>
<g transform="translate(536.5 235.5) scale(1)" fill="#fff" stroke="#000" stroke-width="1.3"><path d="M-9.500 21.500 L0.500 22.500 Q2 23 1.800 25 L0 36 Q-0.500 38 -3 38 L-10.500 36.500 Q-12.800 35.500 -12.500 33 L-11 23 Q-10.800 21.500 -9.500 21.500Z"/><path d="M-5 27 l-0.800 6 M-3 27 l0 5 l-2 1" stroke-width="1"/><path d="M-4 5 L-6.500 22 L-1 23 L2 7 Z"/><path d="M-5 11 l6 1.500 M-5.600 15 l6 1.500 M-6.200 19 l6 1.500" stroke-width="0.9"/><path d="M-8 0 Q-8.500 -3 -4 -4 L4 -3 Q8.500 -1 8 2 L6 5.500 Q2 8 -3 6.500 L-7.500 3.500 Z"/><path d="M-5 -1 q4 -2 9 1 q-3 3 -8 1 Z" stroke-width="1.05" fill="#8a8a8a"/></g>
<g transform="translate(557.5 246) scale(1)" fill="#fff" stroke="#000" stroke-width="1.3"><path d="M-9.500 21.500 L0.500 22.500 Q2 23 1.800 25 L0 36 Q-0.500 38 -3 38 L-10.500 36.500 Q-12.800 35.500 -12.500 33 L-11 23 Q-10.800 21.500 -9.500 21.500Z"/><path d="M-5 27 l-0.800 6 M-3 27 l0 5 l-2 1" stroke-width="1"/><path d="M-4 5 L-6.500 22 L-1 23 L2 7 Z"/><path d="M-5 11 l6 1.500 M-5.600 15 l6 1.500 M-6.200 19 l6 1.500" stroke-width="0.9"/><path d="M-10 -1 Q-10 -4.500 -5 -5 L6 -2.500 Q11 0 10.500 4 L8 7 Q3 9.500 -3 7 L-9 3.500 Z"/><path d="M-6 -2 q5 -2 10 1.500 q-3 3 -8 1 Z M4 2 l5 2.500" stroke-width="1.05" fill="#8a8a8a"/></g>
<text x="430" y="245.3" font-size="17" text-anchor="middle" stroke="#000" stroke-width="0.4">11</text>
<path d="M442 239L461 239" fill="none" stroke="#000" stroke-width="1.3"/>
<text x="511.5" y="264.3" font-size="17" text-anchor="middle" stroke="#000" stroke-width="0.4">12</text>
<path d="M487 258L498 258" fill="none" stroke="#000" stroke-width="1.3"/>
<text x="587.5" y="244.3" font-size="17" text-anchor="middle" stroke="#000" stroke-width="0.4">11</text>
<path d="M544 238L576 238" fill="none" stroke="#000" stroke-width="1.3"/>
<text x="580" y="282.3" font-size="17" text-anchor="middle" stroke="#000" stroke-width="0.4">12</text>
<path d="M555 277L567.5 277" fill="none" stroke="#000" stroke-width="1.3"/>
<text x="469" y="285.8" font-size="17" text-anchor="middle" stroke="#000" stroke-width="0.4">41</text>
<path d="M480 279.5L500 279.5" fill="none" stroke="#000" stroke-width="1.3"/>
<path d="M499.500 279 Q500 275.500 504 275 Q508.500 275.500 509 279 L507 281.500 L506.500 290 L502.500 291 L502 281.500 Z" fill="#fff" stroke="#000" stroke-width="1.3"/>
<path d="M502 283.500 l5 1 M502 286 l5 1 M502 288.500 l5 1 M502 278 l5 1.500" fill="none" stroke="#000" stroke-width="1"/>
<text x="533" y="313.3" font-size="17" text-anchor="middle" stroke="#000" stroke-width="0.4">19</text>
<path d="M510 307L521 307" fill="none" stroke="#000" stroke-width="1.3"/>
<path d="M485 300 Q484 294 489 291.500 Q492 291 496 294 L505 301 L509 300.500 L511 303.500 L506 310 Q500 312 494 309.500 Q487 306 485 300Z" fill="#fff" stroke="#000" stroke-width="1.6"/>
<path d="M489 294 Q488 300 494 304.500 Q499 308 505 307 M491 292.500 Q491 298 497 302.500 L504 305 M505 301 L502 306" fill="none" stroke="#000" stroke-width="1.2"/>
<text x="460.5" y="490.3" font-size="17" text-anchor="middle" stroke="#000" stroke-width="0.4">26</text>
<path d="M461 457.5L461 473" fill="none" stroke="#000" stroke-width="1.4"/>
<path d="M551 343 L553 348 L551.500 356 L554.500 360 L553.500 374 L535 436 L527 449 L519 451" fill="none" stroke="#000" stroke-width="1.3"/>
<path d="M549 366 L551 370 L533 428 L524 438" fill="none" stroke="#000" stroke-width="1.2"/>
<path d="M547 377 l3 -1.500 l0 6 l-3 1 Z" fill="none" stroke="#000" stroke-width="1.1"/>
<ellipse cx="545" cy="370.5" rx="1.5" ry="2" fill="none" stroke="#000" stroke-width="1.1"/>
<ellipse cx="525" cy="433.5" rx="1.8" ry="2.2" fill="none" stroke="#000" stroke-width="1.1"/>
<path d="M429 305 Q437 298.500 446.500 296.500 L550 341 Q551.500 346 549 352 Q543 368 537.500 384 Q532 402 528 419.500 Q523 437 519.800 446.600 Q517 455 515 459 Q510 470 500 472.500 L401 431.500 Q395 428 395 420 Q400 390 410 355 Q419 325 429 305Z" fill="#fff" stroke="#000" stroke-width="1.6"/>
<path d="M434 310.600 L464 323.600 M477 327.700 L533.400 349.500" fill="none" stroke="#000" stroke-width="1.2"/>
<path d="M533.4 349.5C532.5 353 530.5 360.8 528 370.7C525.5 380.6 521.7 396.4 518.5 408.6C515.3 420.8 511.7 434.5 509 444C506.3 453.5 503.3 462 502.2 465.6" fill="none" stroke="#000" stroke-width="1.2"/>
<path d="M533.400 349.500 Q540 344 549 341.500" fill="none" stroke="#000" stroke-width="1.1"/>
<path d="M479.400 311.400 L464 323.600 L457.500 345 L447.500 410.500 L441.700 445.500" fill="none" stroke="#000" stroke-width="1.2"/>
<path d="M488.300 315.500 L473.700 326.900 L467.200 345 L463.500 361.500 L456 381.700 L449 416.500 L444.500 447" fill="none" stroke="#000" stroke-width="1.2"/>
<path d="M448.500 298.400 L434 310.600 Q426 330 419 358 Q410 392 404.500 418 Q403 424 409 426 L434 436" fill="none" stroke="#000" stroke-width="1.2"/>
<path d="M436.400 317 L461.500 328.500 M436.400 317 Q427 360 415 417 L433 430 Q446 378 460 331" fill="none" stroke="#000" stroke-width="1.2"/>
<path d="M420 412 L436 419 M415 417 L420 412 L441 328" fill="none" stroke="#000" stroke-width="1.1"/>
<path d="M466 360L526.5 386.5" fill="none" stroke="#000" stroke-width="1.2"/>
<path d="M457 381.7L518 409.5" fill="none" stroke="#000" stroke-width="1.2"/>
<ellipse cx="452.6" cy="306" rx="2" ry="1.5" fill="none" stroke="#000" stroke-width="1.1" transform="rotate(20 452.6 306)"/>
<ellipse cx="467.2" cy="311.4" rx="2" ry="1.5" fill="none" stroke="#000" stroke-width="1.1" transform="rotate(20 467.2 311.4)"/>
<ellipse cx="492.4" cy="320.4" rx="3.5" ry="2" fill="none" stroke="#000" stroke-width="1.1" transform="rotate(20 492.4 320.4)"/>
<ellipse cx="507" cy="327.7" rx="2" ry="1.3" fill="none" stroke="#000" stroke-width="1.1" transform="rotate(20 507 327.7)"/>
<ellipse cx="525.7" cy="335.8" rx="2" ry="1.5" fill="none" stroke="#000" stroke-width="1.1" transform="rotate(20 525.7 335.8)"/>
<ellipse cx="408" cy="417" rx="1.7" ry="2.2" fill="none" stroke="#000" stroke-width="1.1"/>
<ellipse cx="449.5" cy="444" rx="1.7" ry="2.2" fill="none" stroke="#000" stroke-width="1.1"/>
<ellipse cx="490" cy="459.5" rx="1.7" ry="2.2" fill="none" stroke="#000" stroke-width="1.1"/>
<g fill="#000"><circle cx="467.9" cy="361.2" r="0.7"/><circle cx="473.3" cy="363.6" r="0.7"/><circle cx="478.9" cy="364.5" r="0.7"/><circle cx="482.5" cy="368.5" r="0.7"/><circle cx="488.1" cy="369.3" r="0.7"/><circle cx="494.9" cy="372.1" r="0.7"/><circle cx="499.6" cy="374.3" r="0.7"/><circle cx="504.1" cy="375.7" r="0.7"/><circle cx="509.2" cy="379.7" r="0.7"/><circle cx="514" cy="381.6" r="0.7"/><circle cx="519.3" cy="382.1" r="0.7"/><circle cx="524.6" cy="385.6" r="0.7"/></g>
<g fill="#000"><circle cx="459.1" cy="381.7" r="0.7"/><circle cx="465.5" cy="385.1" r="0.7"/><circle cx="470.2" cy="388.4" r="0.7"/><circle cx="475.3" cy="390.8" r="0.7"/><circle cx="479.6" cy="392.8" r="0.7"/><circle cx="484.8" cy="395.5" r="0.7"/><circle cx="491" cy="395.8" r="0.7"/><circle cx="494.3" cy="398.4" r="0.7"/><circle cx="501.3" cy="401.2" r="0.7"/><circle cx="505.6" cy="403.2" r="0.7"/><circle cx="510.4" cy="405.8" r="0.7"/><circle cx="515.1" cy="408.5" r="0.7"/></g>
<g fill="#000"><circle cx="481.1" cy="330.2" r="0.7"/><circle cx="487" cy="332.6" r="0.7"/><circle cx="493.1" cy="335.2" r="0.7"/><circle cx="498.4" cy="335.6" r="0.7"/><circle cx="504.5" cy="339.9" r="0.7"/><circle cx="510.3" cy="341.4" r="0.7"/><circle cx="515.6" cy="342.9" r="0.7"/><circle cx="521.5" cy="346.2" r="0.7"/><circle cx="525.9" cy="347.4" r="0.7"/><circle cx="533" cy="352" r="0.7"/></g>
<g fill="#000"><circle cx="548.3" cy="344.4" r="0.7"/><circle cx="547.7" cy="348.3" r="0.7"/><circle cx="546" cy="355.2" r="0.7"/><circle cx="546" cy="358.9" r="0.7"/><circle cx="544" cy="364.3" r="0.7"/><circle cx="542.7" cy="370.4" r="0.7"/><circle cx="541.5" cy="377.3" r="0.7"/><circle cx="539.1" cy="382.7" r="0.7"/><circle cx="537" cy="385.9" r="0.7"/><circle cx="536.2" cy="391.1" r="0.7"/><circle cx="533.6" cy="397.4" r="0.7"/><circle cx="533.1" cy="402.2" r="0.7"/><circle cx="530.1" cy="409.3" r="0.7"/><circle cx="529.2" cy="414.9" r="0.7"/><circle cx="529.1" cy="418.8" r="0.7"/><circle cx="526.3" cy="424.5" r="0.7"/><circle cx="525" cy="430" r="0.7"/><circle cx="523" cy="435.4" r="0.7"/><circle cx="522.2" cy="440.4" r="0.7"/><circle cx="519.2" cy="446.2" r="0.7"/><circle cx="517" cy="450.5" r="0.7"/><circle cx="517" cy="456.4" r="0.7"/></g>
<g fill="#000"><circle cx="437.9" cy="325.3" r="0.7"/><circle cx="435.6" cy="334.5" r="0.7"/><circle cx="432.7" cy="342.5" r="0.7"/><circle cx="432.2" cy="349" r="0.7"/><circle cx="430.2" cy="357.9" r="0.7"/><circle cx="428.3" cy="365.5" r="0.7"/><circle cx="426.4" cy="374.3" r="0.7"/><circle cx="422.8" cy="380.5" r="0.7"/><circle cx="422.4" cy="390.5" r="0.7"/><circle cx="419.4" cy="397.2" r="0.7"/><circle cx="418.2" cy="404.8" r="0.7"/><circle cx="415.7" cy="412.6" r="0.7"/></g>
<g fill="#000"><circle cx="458.3" cy="336.2" r="0.7"/><circle cx="455.5" cy="345.6" r="0.7"/><circle cx="453.9" cy="354.6" r="0.7"/><circle cx="450.7" cy="366.2" r="0.7"/><circle cx="447.4" cy="374.9" r="0.7"/><circle cx="445.9" cy="384.8" r="0.7"/><circle cx="441.7" cy="395.2" r="0.7"/><circle cx="440.2" cy="404.3" r="0.7"/><circle cx="436.6" cy="414.8" r="0.7"/><circle cx="435.2" cy="424.9" r="0.7"/></g>
<g fill="#000"><circle cx="466" cy="333.5" r="0.7"/><circle cx="462.9" cy="343.1" r="0.7"/><circle cx="462.4" cy="351.1" r="0.7"/><circle cx="459" cy="358.8" r="0.7"/><circle cx="458" cy="367.5" r="0.7"/><circle cx="456.8" cy="377.6" r="0.7"/><circle cx="453.5" cy="384.7" r="0.7"/><circle cx="453.2" cy="394.1" r="0.7"/><circle cx="451.4" cy="401.9" r="0.7"/><circle cx="448" cy="410.3" r="0.7"/></g>
<g fill="#000"><circle cx="450.9" cy="297.5" r="0.7"/><circle cx="457.3" cy="301.1" r="0.7"/><circle cx="465" cy="304.2" r="0.7"/><circle cx="473.6" cy="306.8" r="0.7"/><circle cx="478.9" cy="311.9" r="0.7"/><circle cx="488.5" cy="315.2" r="0.7"/><circle cx="494.9" cy="318.2" r="0.7"/><circle cx="503.5" cy="319.7" r="0.7"/><circle cx="510.5" cy="324.3" r="0.7"/><circle cx="517.8" cy="326.7" r="0.7"/><circle cx="524.4" cy="329.5" r="0.7"/><circle cx="531.7" cy="332" r="0.7"/><circle cx="540" cy="335.7" r="0.7"/><circle cx="548" cy="338.3" r="0.7"/></g>
<text x="591" y="339.3" font-size="17" text-anchor="middle" stroke="#000" stroke-width="0.4">29</text>
<path d="M592.5 344L592.5 357.5" fill="none" stroke="#000" stroke-width="1.3"/>
<path d="M572.500 367.500 Q580 361 590 357.500 Q597 358 601 363 Q603 370 602.500 380 Q601 395 592 410 Q578 432 568 460 Q560 480 555.500 492 Q553 496.500 549 496 L537 490 Q533.500 488 534.500 483 Q545 450 556 415 Q565 385 572.500 367.500Z" fill="#fff" stroke="#000" stroke-width="1.6"/>
<path d="M574 371C575.8 371.2 581.5 372.5 585 372.5C588.5 372.5 592.5 372.1 595 371C597.5 369.9 599.2 366.8 600 366" fill="none" stroke="#000" stroke-width="1.1"/>
<path d="M597 372C596.8 374.7 597.5 382 596 388C594.5 394 591.7 400.7 588 408C584.3 415.3 578.2 423 574 432C569.8 441 566.5 451.8 563 462C559.5 472.2 554.7 487.8 553 493" fill="none" stroke="#000" stroke-width="1.1"/>
<g fill="#000"><circle cx="572.2" cy="371.6" r="0.7"/><circle cx="569.8" cy="379.2" r="0.7"/><circle cx="567.2" cy="385.6" r="0.7"/><circle cx="562.6" cy="393.2" r="0.7"/><circle cx="560.5" cy="399.3" r="0.7"/><circle cx="559.2" cy="407" r="0.7"/><circle cx="556.1" cy="415.2" r="0.7"/><circle cx="554.2" cy="421" r="0.7"/><circle cx="551.1" cy="429.5" r="0.7"/><circle cx="549.3" cy="436.6" r="0.7"/><circle cx="546.7" cy="442.4" r="0.7"/><circle cx="544.9" cy="451.2" r="0.7"/><circle cx="541.7" cy="458.3" r="0.7"/><circle cx="541.2" cy="465.6" r="0.7"/><circle cx="538.7" cy="470.9" r="0.7"/><circle cx="536" cy="480.2" r="0.7"/></g>
<g fill="#000"><circle cx="598.8" cy="383.1" r="0.7"/><circle cx="597.2" cy="390.9" r="0.7"/><circle cx="595.4" cy="398.1" r="0.7"/><circle cx="594" cy="404.2" r="0.7"/><circle cx="589.7" cy="411.6" r="0.7"/><circle cx="586.6" cy="418.3" r="0.7"/><circle cx="585.4" cy="427" r="0.7"/><circle cx="580" cy="433" r="0.7"/><circle cx="577.3" cy="439.3" r="0.7"/><circle cx="574.1" cy="447" r="0.7"/><circle cx="571.4" cy="453.1" r="0.7"/><circle cx="567.2" cy="459.9" r="0.7"/><circle cx="564.2" cy="467.5" r="0.7"/><circle cx="562.9" cy="474.1" r="0.7"/><circle cx="558.6" cy="480.7" r="0.7"/><circle cx="556.6" cy="488.7" r="0.7"/></g>
<g fill="#222"><circle cx="548.3" cy="260.7" r="0.600"/><circle cx="579.9" cy="254.9" r="0.600"/><circle cx="552" cy="262.4" r="0.600"/><circle cx="530.4" cy="257.7" r="0.600"/><circle cx="560.2" cy="275.2" r="0.600"/><circle cx="524.3" cy="244.8" r="0.600"/><circle cx="524.1" cy="276.2" r="0.600"/><circle cx="564.5" cy="228.6" r="0.600"/><circle cx="583.8" cy="285.8" r="0.600"/><circle cx="561.8" cy="264.2" r="0.600"/><circle cx="528.6" cy="226.9" r="0.600"/><circle cx="553.4" cy="229.7" r="0.600"/><circle cx="530.7" cy="241" r="0.600"/><circle cx="520" cy="254.8" r="0.600"/><circle cx="547.5" cy="278.2" r="0.600"/><circle cx="552.8" cy="265.7" r="0.600"/><circle cx="551.5" cy="267.1" r="0.600"/><circle cx="548.6" cy="243.2" r="0.600"/><circle cx="584.8" cy="287.7" r="0.600"/><circle cx="574.3" cy="269.9" r="0.600"/><circle cx="539.1" cy="240.2" r="0.600"/><circle cx="537.4" cy="230.4" r="0.600"/><circle cx="569.3" cy="250.8" r="0.600"/><circle cx="574.7" cy="250" r="0.600"/><circle cx="582.2" cy="278.5" r="0.600"/><circle cx="518" cy="239" r="0.600"/><circle cx="579" cy="255.1" r="0.600"/><circle cx="583.7" cy="250.6" r="0.600"/><circle cx="522.9" cy="265" r="0.600"/><circle cx="570.2" cy="242.7" r="0.600"/><circle cx="523.8" cy="246.6" r="0.600"/><circle cx="582.6" cy="273" r="0.600"/><circle cx="525.9" cy="241.3" r="0.600"/><circle cx="524.8" cy="229.7" r="0.600"/><circle cx="571.4" cy="237" r="0.600"/><circle cx="555.5" cy="253.7" r="0.600"/><circle cx="530.8" cy="271.4" r="0.600"/><circle cx="526.8" cy="265.9" r="0.600"/><circle cx="525.8" cy="252.1" r="0.600"/><circle cx="532.3" cy="242.7" r="0.600"/><circle cx="583.1" cy="275.8" r="0.600"/><circle cx="538.4" cy="280.9" r="0.600"/><circle cx="532.1" cy="250.4" r="0.600"/><circle cx="575.2" cy="265.8" r="0.600"/><circle cx="524.7" cy="287.3" r="0.600"/><circle cx="532.3" cy="242" r="0.600"/><circle cx="515" cy="256.6" r="0.600"/><circle cx="504.5" cy="251.5" r="0.600"/><circle cx="500" cy="261.7" r="0.600"/><circle cx="503.3" cy="262" r="0.600"/><circle cx="506.2" cy="259.1" r="0.600"/><circle cx="519.1" cy="259.7" r="0.600"/><circle cx="510.6" cy="267.3" r="0.600"/><circle cx="502" cy="253.1" r="0.600"/><circle cx="518" cy="266.4" r="0.600"/><circle cx="503.5" cy="253.8" r="0.600"/><circle cx="514.3" cy="268.8" r="0.600"/><circle cx="502.3" cy="269" r="0.600"/><circle cx="517.4" cy="262.1" r="0.600"/><circle cx="507.3" cy="252.1" r="0.600"/></g>
<text x="655" y="254.3" font-size="17" text-anchor="middle" stroke="#000" stroke-width="0.4">14</text>
<path d="M668 247.5L686 247.5" fill="none" stroke="#000" stroke-width="1.4"/>
<path d="M647.5 319C651.7 311.8 666.1 287.3 672.5 276C678.9 264.7 679.6 262.5 686 251C692.4 239.5 706.8 214.3 711 207" fill="none" stroke="#000" stroke-width="1.6"/>
<path d="M711 207C712.3 206.1 715.8 202.8 719 201.5C722.2 200.2 726.7 199.1 730 199C733.3 198.9 736.3 200 739 201C741.7 202 744.8 204.3 746 205" fill="none" stroke="#000" stroke-width="1.6"/>
<path d="M746 205 L745.500 210 L727 271 L710 312.500 L698 318.500 L696.500 331" fill="none" stroke="#000" stroke-width="1.6"/>
<path d="M743.500 210 L724 272 L708 311" fill="none" stroke="#000" stroke-width="1.1"/>
<path d="M741.500 209 L722 271" fill="none" stroke="#000" stroke-width="1.1"/>
<path d="M713 206C714.2 206.8 718 209.1 720 211C722 212.9 723.8 215.3 725 217.5C726.2 219.7 726.7 222.9 727 224" fill="none" stroke="#000" stroke-width="1.1"/>
<path d="M727 224C726 227.5 723.3 237.3 721 245C718.7 252.7 715.8 261.5 713 270C710.2 278.5 706.6 288 704 296C701.4 304 698.6 314.3 697.5 318" fill="none" stroke="#000" stroke-width="1.1"/>
<path d="M727 224C728.2 223.8 731.7 223.3 734 222.5C736.3 221.7 739.8 219.6 741 219" fill="none" stroke="#000" stroke-width="1.1"/>
<path d="M647.5 319C649.9 319.9 656.6 322.8 662 324.5C667.4 326.2 674.2 327.9 680 329C685.8 330.1 693.8 330.7 696.5 331" fill="none" stroke="#000" stroke-width="1.6"/>
<path d="M673 329 l0 6 l4 3 l5 -1.500 l0.500 -6" fill="none" stroke="#000" stroke-width="1.3"/>
<ellipse cx="677.5" cy="333.5" rx="1.2" ry="1.3" fill="none" stroke="#000" stroke-width="1"/>
<g fill="#000"><circle cx="665" cy="289" r="0.7"/><circle cx="662.5" cy="293.5" r="0.7"/><circle cx="659.3" cy="299.1" r="0.7"/><circle cx="657.2" cy="302.8" r="0.7"/><circle cx="652.8" cy="309.3" r="0.7"/><circle cx="649.3" cy="313.1" r="0.7"/><circle cx="647.9" cy="320.1" r="0.7"/><circle cx="653.9" cy="320.2" r="0.7"/><circle cx="660.7" cy="321.8" r="0.7"/><circle cx="663.9" cy="323.8" r="0.7"/><circle cx="671" cy="325" r="0.7"/><circle cx="676.1" cy="327.7" r="0.7"/></g>
<g fill="#000"><circle cx="688.7" cy="246.6" r="0.7"/><circle cx="685.1" cy="254.3" r="0.7"/><circle cx="683.9" cy="259" r="0.7"/><circle cx="680.1" cy="264.2" r="0.7"/><circle cx="675.4" cy="267.9" r="0.7"/></g>
<text x="627" y="362.8" font-size="17" text-anchor="middle" stroke="#000" stroke-width="0.4">38</text>
<path d="M641 357L649 357" fill="none" stroke="#000" stroke-width="1.3"/>
<g transform="translate(657.5 354.5) rotate(-52) scale(0.9 0.9)" fill="#fff" stroke="#000" stroke-width="1.4"><path d="M3 -2 L12 -2 Q13.5 0 12 2 L3 2Z"/><path d="M6.5 -2 l0.800 4"/><path d="M9.3 -2 l0.800 4"/><ellipse cx="2" cy="0" rx="2.500" ry="5.800"/><ellipse cx="0" cy="0" rx="2.700" ry="6.300"/><path d="M-9 -4.600 L-1.500 -4.600 Q0.500 0 -1.500 4.600 L-9 4.600Z"/><path d="M-7 -1.800 L-1 -1.800 M-7 2 L-1 2" stroke-width="1.1"/><ellipse cx="-9" cy="0" rx="3" ry="4.700"/></g>
<text x="781" y="207.8" font-size="17" text-anchor="middle" stroke="#000" stroke-width="0.4">4</text>
<path d="M789 201L809 201" fill="none" stroke="#000" stroke-width="1.4"/>
<path d="M816 180 L872.500 202.500 L871.500 208 L843 308 L836 331 L826 336 L806 330 L803 222 Z" fill="#fff" stroke="#000" stroke-width="1.6"/>
<path d="M816.5 182.9L870.1 204.2L835.8 327" fill="none" stroke="#000" stroke-width="1.2"/>
<path d="M816.9 185.7L865.5 205.1" fill="none" stroke="#000" stroke-width="1.2"/>
<path d="M863 205.1L832.8 313" fill="none" stroke="#000" stroke-width="1.2"/>
<path d="M859 205.7L831.1 305.9" fill="none" stroke="#000" stroke-width="1.1"/>
<path d="M816 180 L802.500 223" fill="none" stroke="#000" stroke-width="1.6"/>
<path d="M817.7 185L807 223.5" fill="none" stroke="#000" stroke-width="1.2"/>
<path d="M822 188.8L826 190.4L823.3 200L819.3 198.4Z" fill="#fff" stroke="#000" stroke-width="1.3"/>
<path d="M839 195.6L842.9 197.1L840.2 206.8L836.3 205.2Z" fill="#fff" stroke="#000" stroke-width="1.3"/>
<path d="M817.9 200L806.6 240.5" fill="none" stroke="#000" stroke-width="1.2"/>
<path d="M820.8 203.3L812.7 232.2" fill="none" stroke="#000" stroke-width="1.2"/>
<path d="M826.4 199.1L814 243.4" fill="none" stroke="#000" stroke-width="1.2"/>
<path d="M827.6 208.2L816.8 246.7" fill="none" stroke="#000" stroke-width="1.2"/>
<path d="M834.2 200.1L820.3 250.2" fill="none" stroke="#000" stroke-width="1.2"/>
<path d="M834.4 213L826.9 240" fill="none" stroke="#000" stroke-width="1.2"/>
<path d="M840.5 209L833 236" fill="none" stroke="#000" stroke-width="1.2"/>
<path d="M842.9 214.2L836.9 235.4" fill="none" stroke="#000" stroke-width="1.2"/>
<path d="M850.1 206.4L842 235.3" fill="none" stroke="#000" stroke-width="1.2"/>
<path d="M851.3 215.5L845.9 234.7" fill="none" stroke="#000" stroke-width="1.2"/>
<path d="M815.7 199.1L855.2 214.9" fill="none" stroke="#000" stroke-width="1.2"/>
<path d="M813.6 211.1L827.1 216.5" fill="none" stroke="#000" stroke-width="1.2"/>
<path d="M828.9 223.7L845.9 230.4" fill="none" stroke="#000" stroke-width="1.2"/>
<path d="M810.9 225.1L821.1 229.1" fill="none" stroke="#000" stroke-width="1.2"/>
<path d="M828.5 238.5L843.2 244.3" fill="none" stroke="#000" stroke-width="1.2"/>
<ellipse cx="851.1" cy="241" rx="1.5" ry="2.8" fill="none" stroke="#000" stroke-width="1.1" transform="rotate(15 851.1 241)"/>
<ellipse cx="837.3" cy="290.2" rx="1.5" ry="3" fill="none" stroke="#000" stroke-width="1.1" transform="rotate(15 837.3 290.2)"/>
<path d="M850 236 q-4 3 -3 8 M846 262 l-2 10 M842 282 q-4 2 -3 8 q3 2 4 -2 M838 270 l-3 14" fill="none" stroke="#000" stroke-width="1.2"/>
<path d="M833 305 l-5 16 l-4 5 l1.500 8 l7 -2 l3 -10 l3 -12 M828 321 l7 2 M826 330 l7 1.500 M829 325 l2 0.500" fill="none" stroke="#000" stroke-width="1.3"/>
<text x="703" y="354.8" font-size="17" text-anchor="middle" stroke="#000" stroke-width="0.4">5</text>
<path d="M711 348L730 348" fill="none" stroke="#000" stroke-width="1.4"/>
<path d="M761 230.500 Q768 222 779.500 219 L838.500 244 Q840.500 247 839.600 250.500 L837.400 263.500 Q834 275 831 283 L822 305 L813.500 331 L807 357 Q805 368 804 372 Q801 377 797 377.500 Q793 378.500 789 377 L736 353 Q730 349 730.500 342 Q735 310 745 278 Q752 250 761 230.500Z" fill="#fff" stroke="#000" stroke-width="1.6"/>
<path d="M762.5 233C767.9 235 785 241.2 795 245C805 248.8 817.9 254.2 822.5 256" fill="none" stroke="#000" stroke-width="1.1"/>
<path d="M822.2 257C821.5 259.9 819.6 267.8 817.8 274.3C816 280.8 813.8 288.1 811.3 296C808.8 303.9 805.5 312.6 802.6 322C799.7 331.4 795.9 344.9 794 352.6C792.1 360.3 791.5 365.4 791 368" fill="none" stroke="#000" stroke-width="1.1"/>
<path d="M791 368 Q790 373 795 373 L801 371.500 L801.500 367 Q796.500 366.500 796.500 361.500 Q797.500 357 803.500 358" fill="none" stroke="#000" stroke-width="1.2"/>
<path d="M754.600 271.500 L815.500 296.500 M753.500 274.500 L812.500 298.700" fill="none" stroke="#000" stroke-width="1.3"/>
<path d="M746 291 L808 315.500 M745 294 L806 318" fill="none" stroke="#000" stroke-width="1.3"/>
<path d="M768 278.500 l-1 2.500 M783 284.500 l-1 2.500 M798 290.500 l-1 2.500 M761 298.500 l-1 2.500 M776 304.500 l-1 2.500 M791 310.500 l-1 2.500" fill="none" stroke="#000" stroke-width="1.1"/>
<path d="M825.5 258C824.8 261.2 822.4 270.8 821 277C819.6 283.2 819 289.4 817.3 295.4C815.6 301.4 813.2 306.9 811 313C808.8 319.1 806.3 325 804 332C801.7 339 798.2 351.2 797 355" fill="none" stroke="#000" stroke-width="1.1"/>
<ellipse cx="794" cy="232" rx="2.2" ry="1.5" fill="none" stroke="#000" stroke-width="1.1" transform="rotate(15 794 232)"/>
<ellipse cx="814" cy="241" rx="2.2" ry="1.5" fill="none" stroke="#000" stroke-width="1.1" transform="rotate(15 814 241)"/>
<text x="760" y="403.3" font-size="17" text-anchor="middle" stroke="#000" stroke-width="0.4">36</text>
<path d="M772.5 397L790 397" fill="none" stroke="#000" stroke-width="1.3"/>
<g transform="translate(805 400.3) rotate(5) scale(1.3 1.3)" fill="#fff" stroke="#000" stroke-width="1"><path d="M3 -2 L13.5 -2 Q15 0 13.5 2 L3 2Z"/><path d="M6.5 -2 l0.800 4"/><path d="M9.3 -2 l0.800 4"/><path d="M12.1 -2 l0.800 4"/><ellipse cx="2" cy="0" rx="2.500" ry="5.800"/><ellipse cx="0" cy="0" rx="2.700" ry="6.300"/><path d="M-9 -4.600 L-1.500 -4.600 Q0.500 0 -1.500 4.600 L-9 4.600Z"/><path d="M-7 -1.800 L-1 -1.800 M-7 2 L-1 2" stroke-width="0.8"/><ellipse cx="-9" cy="0" rx="3" ry="4.700"/></g>
<path d="M821 401.5L835 402.5L800 434" fill="none" stroke="#000" stroke-width="1.2"/>
<text x="892" y="194.8" font-size="17" text-anchor="middle" stroke="#000" stroke-width="0.4">39</text>
<path d="M892.5 199.5L892.5 215" fill="none" stroke="#000" stroke-width="1.3"/>
<g transform="translate(879 214)" fill="#fff" stroke="#000" stroke-width="1.4"><path d="M1 6.500 Q0 9 1.500 11 L9 12.500 L10.500 5.500 L4.500 4.500 Q1.800 5 1 6.500Z" fill="#2a2a2a"/><path d="M3 8 l2 0.300 M6 7 l2 0.300 M4 10 l2 0.300 M7.500 9.500 l1.500 0.300" stroke="#fff" stroke-width="1"/><ellipse cx="14" cy="7" rx="5.600" ry="6.300" stroke-width="1.700"/><ellipse cx="12.600" cy="7.300" rx="3.300" ry="4.600" stroke-width="1.500"/><path d="M9.500 5.500 q2 2 0.500 6" stroke-width="1.300" fill="none"/></g>
<text x="1041" y="268.3" font-size="17" text-anchor="middle" stroke="#000" stroke-width="0.4">39</text>
<path d="M1042 272.5L1042 287.5" fill="none" stroke="#000" stroke-width="1.3"/>
<g transform="translate(1028 288)" fill="#fff" stroke="#000" stroke-width="1.4"><path d="M1 6.500 Q0 9 1.500 11 L9 12.500 L10.500 5.500 L4.500 4.500 Q1.800 5 1 6.500Z" fill="#2a2a2a"/><path d="M3 8 l2 0.300 M6 7 l2 0.300 M4 10 l2 0.300 M7.500 9.500 l1.500 0.300" stroke="#fff" stroke-width="1"/><ellipse cx="14" cy="7" rx="5.600" ry="6.300" stroke-width="1.700"/><ellipse cx="12.600" cy="7.300" rx="3.300" ry="4.600" stroke-width="1.500"/><path d="M9.500 5.500 q2 2 0.500 6" stroke-width="1.300" fill="none"/></g>
<text x="974" y="226.3" font-size="17" text-anchor="middle" stroke="#000" stroke-width="0.4">27</text>
<path d="M975 230L975 246" fill="none" stroke="#000" stroke-width="1.4"/>
<path d="M916 224 L1022 270 L1021 276 L1003 340 L984 400 L972 401 L962 388 L893 264 L895 250 L907 249 Z" fill="#fff" stroke="#000" stroke-width="1.6"/>
<path d="M916.5 226.4L1019.9 271.2L986.8 384.5" fill="none" stroke="#000" stroke-width="1.2"/>
<path d="M916.9 229.2L1015.4 272" fill="none" stroke="#000" stroke-width="1.2"/>
<path d="M916 224 L907 249" fill="none" stroke="#000" stroke-width="1.6"/>
<path d="M918.1 229.2L911.9 250.3" fill="none" stroke="#000" stroke-width="1.2"/>
<path d="M1012.9 272.5L978.7 389.7" fill="none" stroke="#000" stroke-width="1.2"/>
<path d="M1007 272.2L976.2 377.8" fill="none" stroke="#000" stroke-width="1.1"/>
<path d="M922.5 234.4L926.8 236.2L924 245.8L919.7 244Z" fill="#fff" stroke="#000" stroke-width="1.4"/>
<path d="M936.3 240.4L940.5 242.2L937.7 251.8L933.5 250Z" fill="#fff" stroke="#000" stroke-width="1.4"/>
<path d="M978.7 258.8L982.9 260.6L980.1 270.2L975.9 268.4Z" fill="#fff" stroke="#000" stroke-width="1.4"/>
<path d="M995.7 266.1L999.9 268L997.1 277.6L992.9 275.7Z" fill="#fff" stroke="#000" stroke-width="1.4"/>
<path d="M957 243 l3 -4 l6 1 l2 5 M962 247 l12 5 l12 6 l-2 6 l-12 -5 l-11 -5 Z M968 251 l6 6 M974 252 l-5 5" fill="none" stroke="#000" stroke-width="1.3"/>
<path d="M910.4 243.2L952.8 261.6" fill="none" stroke="#000" stroke-width="1.3"/>
<path d="M905 245.2L951.7 265.4" fill="none" stroke="#000" stroke-width="1.3"/>
<path d="M957.5 265.8L1007.4 287.4" fill="none" stroke="#000" stroke-width="1.3"/>
<path d="M956.4 269.7L1002 289.4" fill="none" stroke="#000" stroke-width="1.2"/>
<path d="M919 238.3L950.8 252.1" fill="none" stroke="#000" stroke-width="1.2"/>
<path d="M891.5 242.6L881.4 277.1" fill="none" stroke="#000" stroke-width="1.3"/>
<path d="M894.9 247.3L884.8 281.8" fill="none" stroke="#000" stroke-width="1.3"/>
<path d="M900 246.2L889.9 280.8" fill="none" stroke="#000" stroke-width="1.3"/>
<path d="M903.4 251L893.3 285.5" fill="none" stroke="#000" stroke-width="1.3"/>
<path d="M908.4 249.9L898.4 284.5" fill="none" stroke="#000" stroke-width="1.3"/>
<path d="M911.8 254.6L901.8 289.2" fill="none" stroke="#000" stroke-width="1.3"/>
<path d="M916.9 253.6L906.8 288.2" fill="none" stroke="#000" stroke-width="1.3"/>
<path d="M920.3 258.3L910.2 292.9" fill="none" stroke="#000" stroke-width="1.3"/>
<path d="M925.4 257.3L915.3 291.8" fill="none" stroke="#000" stroke-width="1.3"/>
<path d="M928.8 262L918.7 296.6" fill="none" stroke="#000" stroke-width="1.3"/>
<path d="M933.9 261L923.8 295.5" fill="none" stroke="#000" stroke-width="1.3"/>
<path d="M937.3 265.7L927.2 300.2" fill="none" stroke="#000" stroke-width="1.3"/>
<path d="M942.4 264.6L932.3 299.2" fill="none" stroke="#000" stroke-width="1.3"/>
<path d="M891.5 242.6L904.2 248.1" fill="none" stroke="#000" stroke-width="1.2"/>
<path d="M897.4 254.9L937.7 272.4" fill="none" stroke="#000" stroke-width="1.1"/>
<path d="M954.6 249.4L937.2 308.9" fill="none" stroke="#000" stroke-width="1.4"/>
<path d="M958.2 253.2L941.4 310.8" fill="none" stroke="#000" stroke-width="1.4"/>
<path d="M958 272.5L946.8 310.9" fill="none" stroke="#000" stroke-width="1.3"/>
<path d="M961.1 278.2L949.9 316.6" fill="none" stroke="#000" stroke-width="1.3"/>
<path d="M966.5 276.2L955.3 314.6" fill="none" stroke="#000" stroke-width="1.3"/>
<path d="M969.6 281.9L958.4 320.3" fill="none" stroke="#000" stroke-width="1.3"/>
<path d="M974.9 279.9L963.7 318.3" fill="none" stroke="#000" stroke-width="1.3"/>
<path d="M978.1 285.5L966.9 323.9" fill="none" stroke="#000" stroke-width="1.3"/>
<path d="M983.4 283.5L972.2 321.9" fill="none" stroke="#000" stroke-width="1.3"/>
<path d="M986.5 289.2L975.3 327.6" fill="none" stroke="#000" stroke-width="1.3"/>
<path d="M991.9 287.2L980.7 325.6" fill="none" stroke="#000" stroke-width="1.3"/>
<path d="M995 292.9L983.8 331.3" fill="none" stroke="#000" stroke-width="1.3"/>
<path d="M1000.4 290.9L989.2 329.3" fill="none" stroke="#000" stroke-width="1.3"/>
<path d="M956.3 278.3L972.2 285.2" fill="none" stroke="#000" stroke-width="1.2"/>
<path d="M962.5 289.6L983.7 298.8" fill="none" stroke="#000" stroke-width="1.2"/>
<path d="M971.4 304.3L992.6 313.5" fill="none" stroke="#000" stroke-width="1.2"/>
<path d="M972.3 317.6L991.4 325.9" fill="none" stroke="#000" stroke-width="1.2"/>
<path d="M960 268 q6 -2 10 4 l8 4 M984 276 l10 5 l-2 8" fill="none" stroke="#000" stroke-width="1.3"/>
<ellipse cx="1000.7" cy="304" rx="1.5" ry="2.6" fill="none" stroke="#000" stroke-width="1.1" transform="rotate(15 1000.7 304)"/>
<ellipse cx="994.6" cy="325.1" rx="1.5" ry="2.6" fill="none" stroke="#000" stroke-width="1.1" transform="rotate(15 994.6 325.1)"/>
<ellipse cx="987.3" cy="350.1" rx="1.5" ry="2.6" fill="none" stroke="#000" stroke-width="1.1" transform="rotate(15 987.3 350.1)"/>
<ellipse cx="981.7" cy="369.3" rx="1.5" ry="2.6" fill="none" stroke="#000" stroke-width="1.1" transform="rotate(15 981.7 369.3)"/>
<path d="M962 380 L974 376 L985 385 L981 401 L972 399 L960 390 Z" fill="#fff" stroke="#000" stroke-width="1.4"/>
<path d="M966 383 l12 6 l-2 9 M962 388 l10 -8 M968 386 l4 8 l6 -2" fill="none" stroke="#000" stroke-width="1.3"/>
<path d="M970 386 l7 4 l-4 6 Z" fill="#000" stroke="#000" stroke-width="1"/>
<path d="M960 381 l-8 4 M958 386 l-7 3 M962 392 l-8 2" fill="none" stroke="#000" stroke-width="1.2"/>
<text x="970" y="426.3" font-size="17" text-anchor="middle" stroke="#000" stroke-width="0.4">28</text>
<path d="M941 420L956 420" fill="none" stroke="#000" stroke-width="1.4"/>
<path d="M858.500 268 Q866 261 877 259.500 L981 305 Q968 310 964 320 Q958 345 952 385 Q950 405 948.500 420 L947 428 Q944 435 938 436.500 Q934 437.500 929 435.500 L829 393.500 Q823 390 823.500 383 Q828 350 840 312 Q848 288 858.500 268Z" fill="#fff" stroke="#000" stroke-width="1.6"/>
<path d="M866 278 L891 295 M869.500 279.500 L890 289 M910.500 294 L961.500 314.500" fill="none" stroke="#000" stroke-width="1.2"/>
<path d="M961.500 314.500 Q968 308 979.500 305.500" fill="none" stroke="#000" stroke-width="1.1"/>
<path d="M961.5 314.5C960.9 317.1 959.1 323.8 958 330C956.9 336.2 956.5 343.7 955 352C953.5 360.3 950.7 372 949 380C947.3 388 945.7 396.7 945 400" fill="none" stroke="#000" stroke-width="1.2"/>
<path d="M945 400 Q944 412 941 415.500 Q936 416.500 936 421.500 Q937 427 943 427" fill="none" stroke="#000" stroke-width="1.2"/>
<path d="M884 263 Q872 270 864.500 277.500 Q856 297 847 330 Q838 362 832 384 L833 392" fill="none" stroke="#000" stroke-width="1.2"/>
<path d="M912 275.500 Q898 283 893.500 289 L879 330 L864.500 405" fill="none" stroke="#000" stroke-width="1.3"/>
<path d="M910.700 278.500 Q900 284 896.300 290 L885.400 330 L870 407" fill="none" stroke="#000" stroke-width="1.2"/>
<path d="M922.300 280.500 Q909 286 905 292.500 L897.700 330 L880 409.500" fill="none" stroke="#000" stroke-width="1.3"/>
<path d="M923 283 Q911 288 907.500 294 L901.300 330 L885 411.500" fill="none" stroke="#000" stroke-width="1.2"/>
<path d="M868 281.5C868.4 282.9 870.3 286.4 870.5 290C870.7 293.6 870.4 297 869 303C867.6 309 864.2 318.8 862 326C859.8 333.2 857.8 341 856 346C854.2 351 853.3 353.7 851.5 356C849.7 358.3 847 358.6 845 360C843 361.4 840.7 362.8 839.5 364.5C838.3 366.2 837.7 368.2 838 370C838.3 371.8 840.9 374.2 841.5 375" fill="none" stroke="#000" stroke-width="1.3"/>
<path d="M841.500 375 L866.500 386 M841.500 375 L834.500 386 L861 398 M839 379.500 L864 390.500" fill="none" stroke="#000" stroke-width="1.2"/>
<path d="M901 334.500 L956 356 M900 338 L955 359.500" fill="none" stroke="#000" stroke-width="1.4"/>
<path d="M893 354 L947.500 375.500 M892 357.500 L946.500 379" fill="none" stroke="#000" stroke-width="1.4"/>
<ellipse cx="883" cy="270.7" rx="2" ry="1.4" fill="none" stroke="#000" stroke-width="1.1" transform="rotate(20 883 270.7)"/>
<ellipse cx="897.7" cy="277" rx="2" ry="1.4" fill="none" stroke="#000" stroke-width="1.1" transform="rotate(20 897.7 277)"/>
<ellipse cx="929" cy="285.5" rx="3.2" ry="2" fill="none" stroke="#000" stroke-width="1.1" transform="rotate(20 929 285.5)"/>
<ellipse cx="936.8" cy="293.4" rx="2" ry="1.4" fill="none" stroke="#000" stroke-width="1.1" transform="rotate(20 936.8 293.4)"/>
<ellipse cx="956.3" cy="302.8" rx="2" ry="1.4" fill="none" stroke="#000" stroke-width="1.1" transform="rotate(20 956.3 302.8)"/>
<text x="1057" y="415.8" font-size="17" text-anchor="middle" stroke="#000" stroke-width="0.4">30</text>
<path d="M1027 409L1043.5 409" fill="none" stroke="#000" stroke-width="1.4"/>
<path d="M1020 342 Q1027 334 1038 330.500 L1050.500 335.500 Q1053 338 1051 341 Q1053 350 1052 357.500 Q1046 375 1031 395 Q1018 418 1011 438 L1004 463 Q1002 467 998 467 L987 464 Q982.500 461 983.500 456 Q990 430 1000 400 Q1008 370 1020 342Z" fill="#fff" stroke="#000" stroke-width="1.6"/>
<path d="M1024 343C1025.5 343.3 1030 344.8 1033 345C1036 345.2 1039.5 344.7 1042 344C1044.5 343.3 1047 341.5 1048 341" fill="none" stroke="#000" stroke-width="1.1"/>
<path d="M1047 345C1046.7 347.2 1046.8 352.5 1045 358C1043.2 363.5 1039.2 371.5 1036 378C1032.8 384.5 1029.5 389.7 1026 397C1022.5 404.3 1018.2 413.8 1015 422C1011.8 430.2 1009.2 438.7 1007 446C1004.8 453.3 1002.4 462.7 1001.5 466" fill="none" stroke="#000" stroke-width="1.1"/>
<path d="M1011 438 l6 1 l0.500 3 l-6 0 M1005 459 l10 2 l2.500 3 l-1 10 l-2.500 1.500 l-1.500 -2 l0.500 -8 l-8 -2" fill="none" stroke="#000" stroke-width="1.3"/>
<text x="956" y="507.3" font-size="17" text-anchor="middle" stroke="#000" stroke-width="0.4">38</text>
<path d="M956 475L956 490" fill="none" stroke="#000" stroke-width="1.3"/>
<g transform="translate(958.5 467.5) rotate(2) scale(1.1 1.1)" fill="#fff" stroke="#000" stroke-width="1.2"><path d="M3 -2 L14 -2 Q15.5 0 14 2 L3 2Z"/><path d="M6.5 -2 l0.800 4"/><path d="M9.3 -2 l0.800 4"/><path d="M12.1 -2 l0.800 4"/><ellipse cx="2" cy="0" rx="2.500" ry="5.800"/><ellipse cx="0" cy="0" rx="2.700" ry="6.300"/><path d="M-9 -4.600 L-1.500 -4.600 Q0.500 0 -1.500 4.600 L-9 4.600Z"/><path d="M-7 -1.800 L-1 -1.800 M-7 2 L-1 2" stroke-width="0.9"/><ellipse cx="-9" cy="0" rx="3" ry="4.700"/></g>
<text x="109" y="424.3" font-size="17" text-anchor="middle" stroke="#000" stroke-width="0.4">7</text>
<path d="M117 417L135 417" fill="none" stroke="#000" stroke-width="1.4"/>
<path d="M150 446 L287.400 504.400 M151 449 L286 506 M152 452 L285.300 508.500 M192 465 l2 1.500 M241.500 486 l2 1.500" fill="none" stroke="#000" stroke-width="1.2"/>
<path d="M143 443 l1 7 l3 1.500 l1 -5" fill="none" stroke="#000" stroke-width="1.2"/>
<path d="M292.300 505.400 L307.500 509.500 L309.400 515 L306.500 518 L293.500 514.500 Z" fill="#fff" stroke="#000" stroke-width="1.4"/>
<path d="M310.400 511 L334 513 L335 516 L311 515.500 Z M315 512 l0 3 M322 512.500 l0 3 M329 513 l0 3" fill="#fff" stroke="#000" stroke-width="1.2"/>
<path d="M135 400 Q136.500 391 144 387 Q158 381.500 175 381 Q192 381.500 207.500 387 L273.200 415.300 L320 432.500 L378.700 457 Q382 459 382.500 461 L384.400 473.200 L384.400 494 Q382.500 499 378.700 501.600 Q368 506 356 509.200 Q343 512 331.300 513 Q318 513 308.500 509.200 L301.600 505.400 L242.800 482 L196.200 461.900 L150 446 Q143 443 141 437.500 L135 412 Z" fill="#fff" stroke="#000" stroke-width="1.6"/>
<path d="M136.5 410C136.9 409.3 137.8 406.9 139 406C140.2 405.1 140.5 404.6 144 404.5C147.5 404.4 154.8 405.3 160 405.5C165.2 405.7 169.7 405.9 175 405.5C180.3 405.1 186.4 403.9 192 403C197.6 402.1 205.7 400.5 208.4 400" fill="none" stroke="#000" stroke-width="1.2"/>
<path d="M208.400 400 L204.500 389 M208.400 400 L212.500 394.500 L208 387.500" fill="none" stroke="#000" stroke-width="1.2"/>
<path d="M138 394 Q138.500 399 141 403" fill="none" stroke="#000" stroke-width="1.1"/>
<path d="M214 392 L269 412.200 M275.200 417.300 L320 434.500 L376.800 459.900" fill="none" stroke="#000" stroke-width="1.2"/>
<path d="M208.400 400 L264.500 421.300 M271.200 423.400 L299.500 436.500 M314.200 442.800 L358.800 464.600" fill="none" stroke="#000" stroke-width="1.2"/>
<path d="M269 412.200 L273.200 415.300 L266.500 424 L264.500 421.300 Z" fill="none" stroke="#000" stroke-width="1.2"/>
<path d="M299.500 436.500 L300.900 434.200 L317 433.300 L313.200 443.700 L306 440 M300.900 434.200 L306 440" fill="none" stroke="#000" stroke-width="1.2"/>
<path d="M174.500 406 L218.700 424.400 M144 406 L194.700 427.500 M137.700 416.800 Q142 421 149 424.400 L189.600 440.800" fill="none" stroke="#000" stroke-width="1.2"/>
<path d="M264.5 422C260.4 422.5 248 424.1 240 425C232 425.9 223.1 426.8 216.5 427.4C209.9 428 203.9 427.8 200.3 428.4C196.7 429 196.2 429.8 195 431C193.8 432.2 193.7 433.1 193.2 435.5C192.7 437.9 191.7 441.2 192.2 445.6C192.7 450 195.5 459.2 196.2 461.9" fill="none" stroke="#000" stroke-width="1.2"/>
<path d="M266 424C262.5 424.6 252.6 426.4 245 427.5C237.4 428.6 226.2 429.7 220.5 430.5C214.8 431.3 213 431.7 211 432.5C209 433.3 209.4 434.2 208.4 435.5C207.4 436.8 205.7 438.3 205 440C204.3 441.7 204.4 441.5 204.3 445.6C204.2 449.8 204.3 461.7 204.3 464.9" fill="none" stroke="#000" stroke-width="1.2"/>
<path d="M193.200 442.600 L202.300 440.600" fill="none" stroke="#000" stroke-width="1.2"/>
<path d="M208.400 442.600 L234.700 453.800 M220.500 430.500 L246.900 443.600 M246.900 443.600 L299.500 436.500" fill="none" stroke="#000" stroke-width="1.2"/>
<path d="M272.200 441.600 L279.300 448.700 L313.700 442.600 M248.900 448.700 L277.200 448.700" fill="none" stroke="#000" stroke-width="1.2"/>
<path d="M246.9 443.6C245.9 444.1 242.3 445.5 241 446.5C239.7 447.5 239.6 448.3 238.8 449.7C238 451.1 236.7 453 236 455C235.3 457 234.8 458.1 234.7 461.9C234.6 465.7 235.5 475.3 235.7 478" fill="none" stroke="#000" stroke-width="1.2"/>
<path d="M248.9 448.7C248.2 449 246 449.6 245 450.5C244 451.4 243.6 452.4 242.8 453.8C242 455.2 240.7 457 240 459C239.3 461 238.5 462.1 238.8 465.9C239.1 469.7 241.3 479.3 241.8 482" fill="none" stroke="#000" stroke-width="1.2"/>
<path d="M246.900 452.700 L301.600 476 M240.800 462 L295.500 483 M277.200 449.700 L320 468 M283.800 446.600 L327.500 470.300" fill="none" stroke="#000" stroke-width="1.2"/>
<path d="M310.400 472.200 L327.500 470.300 L358.800 464.600 L380.600 461.800 M325.600 477 Q350 473 382.500 466.500" fill="none" stroke="#000" stroke-width="1.2"/>
<path d="M310.4 472.2C309.4 472.5 305.9 473.2 304.5 474C303.1 474.8 302.6 475.2 301.8 477C301.1 478.8 300 481.5 300 484.5C300 487.5 301.2 491.8 302 495C302.8 498.2 303.9 501.2 304.7 503.5C305.4 505.8 306.2 508.1 306.5 509" fill="none" stroke="#000" stroke-width="1.2"/>
<path d="M325.6 477C325 477.4 322.8 478.6 322 479.5C321.2 480.4 321.1 481.3 320.8 482.7C320.6 484.1 320.5 486.1 320.5 488C320.5 489.9 320.1 490.6 320.8 494C321.5 497.4 324 505.9 324.6 508.3" fill="none" stroke="#000" stroke-width="1.2"/>
<path d="M302.800 483.600 L319 483.600" fill="none" stroke="#000" stroke-width="1.2"/>
<text x="620" y="426.3" font-size="17" text-anchor="middle" stroke="#000" stroke-width="0.4">8</text>
<path d="M629 420L647.5 420" fill="none" stroke="#000" stroke-width="1.4"/>
<path d="M647.500 412 Q649 405 654 402 Q662 398 670.500 397 Q682 395.500 692.700 396 Q705 397 717 400 L735 402 L789.300 425 L836 445.400 L894.700 468.700 Q897 471 896.700 475.800 L899.700 496 Q898 503 894.700 506 Q880 514 866.300 518.300 Q850 521.500 836 521.400 Q825 521 815.600 518.300 L753.500 497.400 L721 483 L680.500 468 Q665 462 658 457 Q654 450 652 442.700 L647.500 420 Z" fill="#fff" stroke="#000" stroke-width="1.6"/>
<path d="M648.5 423C649.2 422.2 650.4 419.1 653 418.4C655.6 417.7 660.1 418.4 664 418.6C667.9 418.8 671.7 419.4 676.5 419.4C681.3 419.4 687.8 418.9 692.7 418.4C697.6 417.9 701.6 417 706 416.3C710.4 415.6 715.8 414.8 719 414.3C722.2 413.8 724 413.5 725 413.3" fill="none" stroke="#000" stroke-width="3.2"/>
<path d="M648.5 423C649.2 422.2 650.4 419.1 653 418.4C655.6 417.7 660.1 418.4 664 418.6C667.9 418.8 671.7 419.4 676.5 419.4C681.3 419.4 687.8 418.9 692.7 418.4C697.6 417.9 701.6 417 706 416.3C710.4 415.6 715.8 414.8 719 414.3C722.2 413.8 724 413.5 725 413.3" fill="none" stroke="#fff" stroke-width="0.7"/>
<path d="M716 401 L721 410.300 L727 402 M721 410.300 L721.500 414" fill="none" stroke="#000" stroke-width="1.3"/>
<path d="M729 404.200 L781 425.500 M731 407.200 L780 427.500" fill="none" stroke="#000" stroke-width="1.2"/>
<path d="M836 447.400 L894.700 470.700" fill="none" stroke="#000" stroke-width="1.2"/>
<path d="M724 414.3L769.7 433.6L783 434L825.8 457.5" fill="none" stroke="#000" stroke-width="2.9"/>
<path d="M724 414.3L769.7 433.6L783 434L825.8 457.5" fill="none" stroke="#fff" stroke-width="0.7"/>
<path d="M831.900 455.500 L886.600 475.800" fill="none" stroke="#000" stroke-width="1.4"/>
<path d="M783 434C783.5 433.2 785 430.3 786 429C787 427.7 788.5 426.5 789 426" fill="none" stroke="#000" stroke-width="2.9"/>
<path d="M783 434C783.5 433.2 785 430.3 786 429C787 427.7 788.5 426.5 789 426" fill="none" stroke="#fff" stroke-width="0.7"/>
<path d="M796.4 437.3C796.7 436.8 797.3 434.9 798 434C798.7 433.1 800.1 432.3 800.5 432" fill="none" stroke="#000" stroke-width="2.6"/>
<path d="M796.4 437.3C796.7 436.8 797.3 434.9 798 434C798.7 433.1 800.1 432.3 800.5 432" fill="none" stroke="#fff" stroke-width="0.7"/>
<path d="M825.8 457.5C826.5 456.4 828.5 453 830 451C831.5 449 834.2 446.3 835 445.4" fill="none" stroke="#000" stroke-width="3.1"/>
<path d="M825.8 457.5C826.5 456.4 828.5 453 830 451C831.5 449 834.2 446.3 835 445.4" fill="none" stroke="#fff" stroke-width="0.7"/>
<path d="M789 426 L796 429 M800.500 432 L822 441 L835 445.400 M796.400 437.300 L812 446 M797 428 l8 3" fill="none" stroke="#000" stroke-width="1.2"/>
<path d="M693.7 419.4L724 414.3L769.7 433.6L729 437.6Z" fill="none" stroke="#000" stroke-width="2.9"/>
<path d="M693.7 419.4L724 414.3L769.7 433.6L729 437.6Z" fill="none" stroke="#fff" stroke-width="0.7"/>
<path d="M698.800 421.400 L735.200 436.600" fill="none" stroke="#000" stroke-width="1.2"/>
<path d="M653 425.500 L700.800 446.800 M650 434 Q651 440 656 443" fill="none" stroke="#000" stroke-width="1.2"/>
<path d="M729 438C725.7 438.5 713.2 440.1 709 441C704.8 441.9 704.7 442.5 703.5 443.5C702.3 444.5 702 445.2 701.8 447C701.6 448.8 702.2 451.7 702.5 454C702.8 456.3 702.9 457.5 703.8 461C704.7 464.5 707.2 472.7 707.9 475" fill="none" stroke="#000" stroke-width="3.2"/>
<path d="M729 438C725.7 438.5 713.2 440.1 709 441C704.8 441.9 704.7 442.5 703.5 443.5C702.3 444.5 702 445.2 701.8 447C701.6 448.8 702.2 451.7 702.5 454C702.8 456.3 702.9 457.5 703.8 461C704.7 464.5 707.2 472.7 707.9 475" fill="none" stroke="#fff" stroke-width="0.7"/>
<path d="M707.900 448.400 L721 448.400" fill="none" stroke="#000" stroke-width="1.2"/>
<path d="M780 437.6C776.9 438.1 769.7 439.4 761.6 440.7C753.5 442 737.2 444.6 731.2 445.7C725.2 446.8 726.9 446.6 725.5 447.5C724.1 448.4 723.6 449.2 723 451C722.4 452.8 722.2 455.7 722 458C721.8 460.3 721.8 461.5 722 465C722.2 468.5 722.8 476.8 723 479.2" fill="none" stroke="#000" stroke-width="3.2"/>
<path d="M780 437.6C776.9 438.1 769.7 439.4 761.6 440.7C753.5 442 737.2 444.6 731.2 445.7C725.2 446.8 726.9 446.6 725.5 447.5C724.1 448.4 723.6 449.2 723 451C722.4 452.8 722.2 455.7 722 458C721.8 460.3 721.8 461.5 722 465C722.2 468.5 722.8 476.8 723 479.2" fill="none" stroke="#fff" stroke-width="0.7"/>
<path d="M765 454.5L807.5 449.4" fill="none" stroke="#000" stroke-width="2.6"/>
<path d="M765 454.5L807.5 449.4" fill="none" stroke="#fff" stroke-width="0.7"/>
<path d="M765 461.6L817.7 454.5" fill="none" stroke="#000" stroke-width="2.9"/>
<path d="M765 461.6L817.7 454.5" fill="none" stroke="#fff" stroke-width="0.7"/>
<path d="M765 439.300 L780 437.600" fill="none" stroke="#000" stroke-width="1.4"/>
<path d="M780 452.8C776.2 453.5 762.2 455.8 757.5 456.9C752.8 458 753.4 458.5 752 459.5C750.6 460.5 750.1 461.2 749.4 463C748.6 464.8 748 467.7 747.5 470C747 472.3 746.4 473.4 746.4 477C746.4 480.6 747.2 488.9 747.4 491.3" fill="none" stroke="#000" stroke-width="3.2"/>
<path d="M780 452.8C776.2 453.5 762.2 455.8 757.5 456.9C752.8 458 753.4 458.5 752 459.5C750.6 460.5 750.1 461.2 749.4 463C748.6 464.8 748 467.7 747.5 470C747 472.3 746.4 473.4 746.4 477C746.4 480.6 747.2 488.9 747.4 491.3" fill="none" stroke="#fff" stroke-width="0.7"/>
<path d="M780 459.6C776.9 460 765.4 461.1 761.6 462C757.8 462.9 758.2 463.8 757 465C755.8 466.2 755 466.5 754.5 469C754 471.5 753.9 475.9 753.7 480C753.5 484.1 753.5 491.1 753.5 493.3" fill="none" stroke="#000" stroke-width="3.2"/>
<path d="M780 459.6C776.9 460 765.4 461.1 761.6 462C757.8 462.9 758.2 463.8 757 465C755.8 466.2 755 466.5 754.5 469C754 471.5 753.9 475.9 753.7 480C753.5 484.1 753.5 491.1 753.5 493.3" fill="none" stroke="#fff" stroke-width="0.7"/>
<path d="M727 452.800 L747.400 462 M759.500 465 L809.600 487" fill="none" stroke="#000" stroke-width="1.2"/>
<path d="M799.4 464.6L826.8 459.6L866.3 476.8L838 482.9Z" fill="none" stroke="#000" stroke-width="2.9"/>
<path d="M799.4 464.6L826.8 459.6L866.3 476.8L838 482.9Z" fill="none" stroke="#fff" stroke-width="0.7"/>
<path d="M831.900 460.600 L870.300 475.800" fill="none" stroke="#000" stroke-width="1.2"/>
<path d="M894.7 473.8C893.4 474.3 891.6 475.7 886.6 476.8C881.6 477.9 872.4 479.3 865 480.5C857.6 481.7 849.5 483 842 483.9C834.5 484.8 824.1 485.3 819.7 485.9C815.3 486.5 816.5 486.8 815.5 487.5C814.5 488.2 813.9 488.4 813.6 490C813.3 491.6 813.6 494.7 813.8 497C814 499.3 813.8 500.8 814.6 504C815.4 507.2 818 514.2 818.7 516.3" fill="none" stroke="#000" stroke-width="3.2"/>
<path d="M894.7 473.8C893.4 474.3 891.6 475.7 886.6 476.8C881.6 477.9 872.4 479.3 865 480.5C857.6 481.7 849.5 483 842 483.9C834.5 484.8 824.1 485.3 819.7 485.9C815.3 486.5 816.5 486.8 815.5 487.5C814.5 488.2 813.9 488.4 813.6 490C813.3 491.6 813.6 494.7 813.8 497C814 499.3 813.8 500.8 814.6 504C815.4 507.2 818 514.2 818.7 516.3" fill="none" stroke="#fff" stroke-width="0.7"/>
<path d="M821.700 488 L890.600 477.800" fill="none" stroke="#000" stroke-width="1.2"/>
<g fill="#000"><circle cx="646.9" cy="420.4" r="0.7"/><circle cx="648.1" cy="415.8" r="0.7"/><circle cx="646.5" cy="410.4" r="0.7"/><circle cx="650.4" cy="406.9" r="0.7"/><circle cx="653" cy="403.7" r="0.7"/><circle cx="656.8" cy="401" r="0.7"/><circle cx="662.7" cy="400.2" r="0.7"/><circle cx="667.2" cy="398.4" r="0.7"/><circle cx="671.9" cy="397.8" r="0.7"/><circle cx="675.8" cy="397.1" r="0.7"/><circle cx="681.6" cy="397.3" r="0.7"/><circle cx="685.4" cy="396.9" r="0.7"/><circle cx="691" cy="396.3" r="0.7"/><circle cx="695.3" cy="396.1" r="0.7"/><circle cx="699.9" cy="397.3" r="0.7"/><circle cx="703.6" cy="398.2" r="0.7"/><circle cx="710.1" cy="399.4" r="0.7"/><circle cx="714.2" cy="399.2" r="0.7"/><circle cx="718.9" cy="400.3" r="0.7"/><circle cx="723.1" cy="401.4" r="0.7"/><circle cx="727.1" cy="401.7" r="0.7"/><circle cx="731.7" cy="401.9" r="0.7"/></g>
<g fill="#000"><circle cx="655.3" cy="417.5" r="0.7"/><circle cx="660.6" cy="418.4" r="0.7"/><circle cx="665.1" cy="419.7" r="0.7"/><circle cx="669" cy="417.8" r="0.7"/><circle cx="673.8" cy="419.7" r="0.7"/><circle cx="678.3" cy="418.5" r="0.7"/><circle cx="684.7" cy="419.3" r="0.7"/><circle cx="688.4" cy="419.6" r="0.7"/><circle cx="692.8" cy="418.7" r="0.7"/><circle cx="697.2" cy="417.4" r="0.7"/><circle cx="703.3" cy="417.9" r="0.7"/><circle cx="708.2" cy="415.8" r="0.7"/><circle cx="712.2" cy="415" r="0.7"/><circle cx="715.8" cy="414.7" r="0.7"/></g>
<g fill="#000"><circle cx="738.5" cy="405" r="0.7"/><circle cx="743.6" cy="407.5" r="0.7"/><circle cx="748" cy="408" r="0.7"/><circle cx="753.8" cy="410.5" r="0.7"/><circle cx="758.6" cy="413.1" r="0.7"/><circle cx="765" cy="415.6" r="0.7"/><circle cx="769.7" cy="418.8" r="0.7"/><circle cx="776.7" cy="420.1" r="0.7"/><circle cx="779.9" cy="421.4" r="0.7"/><circle cx="787.2" cy="423.7" r="0.7"/></g>
<text x="650" y="489.3" font-size="17" text-anchor="middle" stroke="#000" stroke-width="0.4">9</text>
<path d="M657.5 483L677.5 483" fill="none" stroke="#000" stroke-width="1.3"/>
<g transform="translate(676 474.5)" fill="#fff" stroke="#000" stroke-width="1.3"><path d="M2.500 6 L3 14 Q6 17.500 11 16.500 L15 14.500 L16 6Z"/><path d="M8 8 l0.500 8.500 M11 8 l0 8.500" stroke-width="1.05"/><path d="M0 3.500 Q3 -0.500 9 0 Q15 1 16.500 4.500 Q16 8.500 9 8.500 Q2 8 0 3.500Z"/><path d="M3 3.500 Q8 1 13 4 Q8 6.500 3 3.500Z M6 2.500 l4 3 M10 2.500 l-4 3" stroke-width="1.05"/></g>
<text x="751" y="534.3" font-size="17" text-anchor="middle" stroke="#000" stroke-width="0.4">9</text>
<path d="M760 528L779 528" fill="none" stroke="#000" stroke-width="1.3"/>
<g transform="translate(777.5 519)" fill="#fff" stroke="#000" stroke-width="1.3"><path d="M2.500 6 L3 14 Q6 17.500 11 16.500 L15 14.500 L16 6Z"/><path d="M8 8 l0.500 8.500 M11 8 l0 8.500" stroke-width="1.05"/><path d="M0 3.500 Q3 -0.500 9 0 Q15 1 16.500 4.500 Q16 8.500 9 8.500 Q2 8 0 3.500Z"/><path d="M3 3.500 Q8 1 13 4 Q8 6.500 3 3.500Z M6 2.500 l4 3 M10 2.500 l-4 3" stroke-width="1.05"/></g>
<path d="M42.200 520 L49 504 L50.600 508 L75 499.400 L79.800 511.900 L57.500 521.500 L58.800 526.900 Z" fill="#000" stroke="#000" stroke-width="1"/>
<text x="0" y="0" font-size="18.500" font-weight="bold" transform="translate(81.600 511.600) rotate(-21.500)" stroke="#000" stroke-width="1.300" letter-spacing="0.500">FR.</text>
<text x="926.500" y="539.200" font-size="12.700" stroke="#000" stroke-width="0.450">SNACB4101</text>
</svg>
</body></html>
